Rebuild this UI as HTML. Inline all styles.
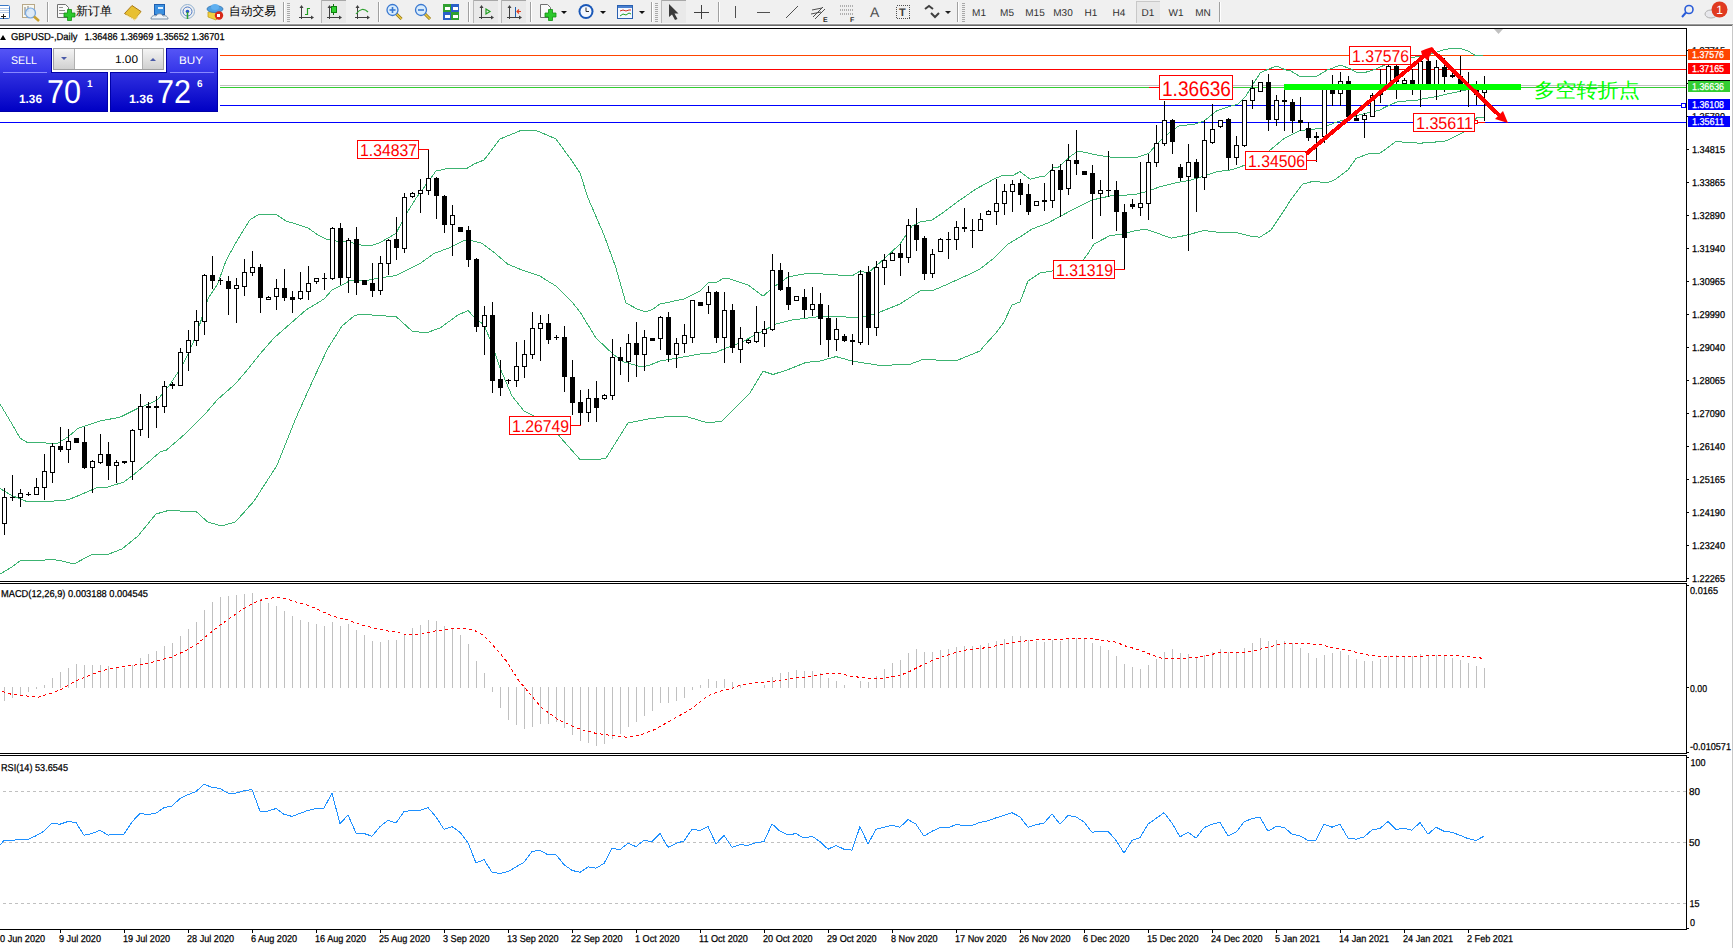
<!DOCTYPE html><html><head><meta charset="utf-8"><style>
html,body{margin:0;padding:0;width:1733px;height:948px;overflow:hidden;background:#f0f0f0;}
svg{position:absolute;left:0;top:0;font-family:"Liberation Sans", sans-serif;}
text{white-space:pre;text-rendering:geometricPrecision;}
</style></head><body>
<svg width="1733" height="948" viewBox="0 0 1733 948">
<rect x="0" y="0" width="1733" height="24" fill="#f0f0f0"/>
<rect x="0" y="23" width="1733" height="1" fill="#f6f6f6"/>
<rect x="0" y="24" width="1733" height="1" fill="#9a9a9a"/>
<rect x="0" y="25" width="1733" height="1" fill="#6a6a6a"/>
<rect x="0" y="26" width="1732" height="922" fill="#ffffff"/>
<rect x="1732" y="25" width="1" height="923" fill="#c8c8c8"/>
<g shape-rendering="crispEdges">
</g>
<g shape-rendering="crispEdges">
<rect x="0" y="55" width="1686" height="1" fill="#ff4500"/>
<rect x="0" y="69" width="1686" height="1" fill="#ff0000"/>
<rect x="0" y="85" width="1686" height="1" fill="#c0c0c0"/>
<rect x="0" y="87" width="1686" height="1" fill="#32cd32"/>
<rect x="0" y="105" width="1682" height="1" fill="#0000ff"/>
<rect x="0" y="122" width="1686" height="1" fill="#0000ff"/>
<rect x="1681.5" y="103.5" width="4" height="4" fill="#fff" stroke="#0000ff" stroke-width="1"/>
</g>
<g shape-rendering="crispEdges">
<polyline points="0.0,404.0 12.0,424.0 20.0,438.0 28.0,443.0 40.0,442.4 52.0,443.6 58.0,443.0 68.0,437.0 78.0,428.4 100.0,421.0 120.0,417.2 137.7,408.4 148.8,404.0 157.7,399.5 168.7,386.2 177.6,372.9 186.5,357.4 195.3,337.5 204.2,310.9 208.6,297.6 217.5,284.3 226.3,260.0 237.4,240.0 250.0,219.7 258.0,215.0 276.0,214.4 286.0,221.0 296.0,224.0 308.0,228.0 318.0,235.0 326.0,239.0 336.0,241.0 350.0,242.3 362.0,245.3 372.0,245.3 380.0,242.7 396.0,233.3 406.0,214.3 416.0,198.3 436.0,171.0 450.0,168.0 466.0,169.0 474.0,164.0 484.0,160.0 500.0,139.0 522.0,130.0 534.0,130.0 540.0,132.0 556.0,139.0 572.0,161.0 580.0,173.0 588.0,198.0 604.0,235.0 616.0,268.0 626.0,303.0 638.0,309.5 646.0,312.0 653.0,309.0 660.0,304.0 684.0,299.0 700.0,291.0 708.0,283.0 716.0,282.5 724.0,278.0 730.0,279.0 748.0,285.0 763.0,296.2 773.0,287.5 788.0,277.0 809.0,273.0 852.0,276.0 860.0,271.0 868.0,273.0 884.0,259.0 900.0,244.0 912.0,226.0 920.0,222.0 932.0,220.0 944.0,212.0 960.0,200.0 976.0,189.0 996.0,178.0 1004.0,175.0 1012.0,176.0 1020.0,171.6 1030.0,179.2 1038.4,177.1 1044.8,176.3 1053.6,167.4 1058.7,167.0 1069.7,156.9 1077.3,151.4 1082.3,151.8 1097.5,155.2 1114.4,157.6 1118.0,157.4 1137.0,157.4 1148.4,153.6 1159.8,141.3 1169.2,132.7 1178.7,126.0 1194.0,124.2 1203.5,121.3 1216.7,110.9 1230.0,106.2 1237.6,104.3 1245.2,97.1 1252.8,84.5 1260.4,72.7 1266.3,70.1 1270.5,68.4 1276.4,66.1 1282.3,68.4 1285.0,69.8 1290.8,71.0 1300.0,76.5 1316.2,76.5 1327.7,69.8 1340.4,65.2 1350.2,68.7 1356.6,72.4 1365.2,72.4 1373.9,69.8 1385.0,64.9 1400.0,62.0 1411.6,57.7 1421.0,56.0 1432.0,53.7 1443.3,49.8 1452.8,48.2 1462.3,49.0 1468.6,51.3 1475.0,55.3 1482.9,56.0" fill="none" stroke="#3cb371" stroke-width="1"/>
<polyline points="0.0,488.5 11.5,495.4 28.0,502.0 64.0,500.6 70.0,499.0 80.0,495.0 96.0,488.0 108.0,487.0 124.0,482.0 132.0,476.0 144.0,466.0 160.0,452.0 166.5,450.0 186.5,432.7 204.2,415.0 217.5,399.5 235.2,384.0 248.5,368.5 260.0,354.0 274.0,338.0 290.0,324.0 306.0,310.0 324.0,299.0 332.0,290.0 346.0,283.0 350.0,280.5 366.0,280.5 380.0,278.0 396.0,275.5 420.0,263.5 434.0,253.5 450.0,247.5 464.0,240.7 470.0,240.3 482.0,243.3 494.0,252.3 508.0,264.3 522.0,270.0 540.0,276.0 546.0,280.0 556.0,286.0 560.0,290.0 572.0,302.0 580.0,312.0 596.0,338.0 614.0,355.0 624.0,362.0 642.0,367.0 650.0,365.0 660.0,361.0 672.0,359.0 700.0,354.0 716.0,352.5 726.0,348.0 740.0,343.0 776.0,324.0 792.0,320.0 816.0,317.0 836.0,316.0 856.0,318.0 868.0,316.0 880.0,312.0 900.0,304.0 920.0,291.0 934.0,290.0 948.0,284.0 970.0,274.0 980.0,269.0 994.0,258.0 1002.0,250.0 1008.0,244.0 1020.0,237.0 1032.0,229.0 1048.0,223.0 1060.0,216.4 1076.0,208.0 1092.0,200.0 1110.0,196.0 1123.7,195.4 1137.0,194.0 1146.4,191.6 1159.8,186.8 1175.0,183.0 1190.0,180.2 1203.5,176.4 1216.7,171.6 1232.0,169.8 1245.3,165.0 1256.9,158.1 1269.4,150.6 1283.8,138.8 1300.6,130.4 1321.7,128.3 1334.4,122.8 1347.0,119.0 1359.7,114.8 1380.0,110.1 1383.9,107.7 1396.3,102.2 1401.2,101.1 1415.0,100.8 1421.9,99.0 1432.3,97.3 1439.3,95.9 1446.2,94.2 1456.6,92.1 1465.6,90.0 1484.0,87.0" fill="none" stroke="#3cb371" stroke-width="1"/>
<polyline points="0.0,574.0 12.0,567.0 20.0,561.0 40.0,560.4 52.0,559.4 62.0,561.0 74.0,564.0 92.0,554.4 108.0,554.4 122.0,549.0 138.0,536.0 156.0,514.0 170.0,510.0 180.0,511.0 196.2,511.6 207.7,522.0 221.6,525.9 235.4,522.0 253.9,501.2 277.0,465.4 295.4,419.2 313.0,380.0 328.0,348.0 342.0,326.0 354.0,316.0 360.0,314.0 380.0,315.7 396.0,316.5 412.0,331.0 426.0,333.0 440.0,328.0 458.0,315.0 468.0,310.5 474.0,317.0 484.0,325.0 492.0,344.0 500.0,368.0 512.0,396.0 524.0,411.0 532.0,415.0 558.0,434.0 560.0,437.0 580.0,459.5 600.0,459.5 602.0,458.5 606.0,458.2 628.0,423.0 648.0,419.0 672.0,416.0 688.0,417.0 708.0,423.0 722.0,421.0 730.0,413.0 750.0,393.0 763.0,371.2 773.0,374.5 788.0,369.6 806.0,362.4 820.0,361.0 836.0,356.6 852.0,361.0 868.0,363.6 884.0,366.0 900.0,364.0 908.0,365.0 924.0,359.0 936.0,360.0 958.0,360.0 980.0,351.0 984.0,346.0 996.0,333.0 1004.0,322.0 1012.0,305.0 1020.0,302.0 1028.0,281.0 1040.0,273.0 1052.0,271.0 1070.0,265.5 1083.0,260.0 1087.0,255.0 1094.0,244.0 1110.0,235.6 1121.8,234.3 1137.0,230.2 1146.4,229.6 1157.9,233.4 1171.1,238.1 1186.3,235.3 1203.5,230.5 1216.7,232.1 1237.6,232.8 1250.9,236.2 1260.0,237.2 1271.0,230.0 1286.0,207.5 1290.6,200.0 1302.4,184.3 1312.6,181.4 1327.8,182.6 1334.4,180.0 1347.9,170.0 1356.3,158.2 1368.1,154.0 1380.0,153.2 1395.8,141.6 1419.6,143.2 1432.0,142.4 1446.5,140.8 1462.3,132.9 1468.6,129.0 1476.5,117.8 1484.4,117.8" fill="none" stroke="#3cb371" stroke-width="1"/>
</g>
<g shape-rendering="crispEdges">
<rect x="4" y="488" width="1" height="47" fill="#000"/>
<rect x="2" y="497" width="5" height="27" fill="#000"/>
<rect x="3" y="498" width="3" height="25" fill="#fff"/>
<rect x="12" y="475" width="1" height="26" fill="#000"/>
<rect x="10" y="497" width="5" height="1" fill="#000"/>
<rect x="20" y="489" width="1" height="18" fill="#000"/>
<rect x="18" y="493" width="5" height="5" fill="#000"/>
<rect x="19" y="494" width="3" height="3" fill="#fff"/>
<rect x="28" y="492" width="1" height="4" fill="#000"/>
<rect x="26" y="494" width="5" height="1" fill="#000"/>
<rect x="36" y="478" width="1" height="17" fill="#000"/>
<rect x="34" y="487" width="5" height="8" fill="#000"/>
<rect x="35" y="488" width="3" height="6" fill="#fff"/>
<rect x="44" y="454" width="1" height="46" fill="#000"/>
<rect x="42" y="471" width="5" height="17" fill="#000"/>
<rect x="43" y="472" width="3" height="15" fill="#fff"/>
<rect x="52" y="443" width="1" height="40" fill="#000"/>
<rect x="50" y="446" width="5" height="27" fill="#000"/>
<rect x="51" y="447" width="3" height="25" fill="#fff"/>
<rect x="60" y="427" width="1" height="25" fill="#000"/>
<rect x="58" y="446" width="5" height="4" fill="#000"/>
<rect x="68" y="429" width="1" height="34" fill="#000"/>
<rect x="66" y="441" width="5" height="9" fill="#000"/>
<rect x="67" y="442" width="3" height="7" fill="#fff"/>
<rect x="76" y="438" width="1" height="5" fill="#000"/>
<rect x="74" y="438" width="5" height="5" fill="#000"/>
<rect x="84" y="427" width="1" height="42" fill="#000"/>
<rect x="82" y="442" width="5" height="26" fill="#000"/>
<rect x="92" y="460" width="1" height="33" fill="#000"/>
<rect x="90" y="461" width="5" height="7" fill="#000"/>
<rect x="91" y="462" width="3" height="5" fill="#fff"/>
<rect x="100" y="434" width="1" height="30" fill="#000"/>
<rect x="98" y="454" width="5" height="9" fill="#000"/>
<rect x="99" y="455" width="3" height="7" fill="#fff"/>
<rect x="108" y="442" width="1" height="38" fill="#000"/>
<rect x="106" y="454" width="5" height="12" fill="#000"/>
<rect x="116" y="460" width="1" height="23" fill="#000"/>
<rect x="114" y="462" width="5" height="4" fill="#000"/>
<rect x="115" y="463" width="3" height="2" fill="#fff"/>
<rect x="124" y="461" width="1" height="3" fill="#000"/>
<rect x="122" y="461" width="5" height="2" fill="#000"/>
<rect x="132" y="429" width="1" height="51" fill="#000"/>
<rect x="130" y="430" width="5" height="32" fill="#000"/>
<rect x="131" y="431" width="3" height="30" fill="#fff"/>
<rect x="140" y="394" width="1" height="42" fill="#000"/>
<rect x="138" y="406" width="5" height="24" fill="#000"/>
<rect x="139" y="407" width="3" height="22" fill="#fff"/>
<rect x="148" y="402" width="1" height="36" fill="#000"/>
<rect x="146" y="406" width="5" height="2" fill="#000"/>
<rect x="156" y="396" width="1" height="32" fill="#000"/>
<rect x="154" y="406" width="5" height="2" fill="#000"/>
<rect x="164" y="381" width="1" height="32" fill="#000"/>
<rect x="162" y="386" width="5" height="21" fill="#000"/>
<rect x="163" y="387" width="3" height="19" fill="#fff"/>
<rect x="172" y="382" width="1" height="7" fill="#000"/>
<rect x="170" y="384" width="5" height="2" fill="#000"/>
<rect x="180" y="348" width="1" height="38" fill="#000"/>
<rect x="178" y="352" width="5" height="34" fill="#000"/>
<rect x="179" y="353" width="3" height="32" fill="#fff"/>
<rect x="188" y="330" width="1" height="41" fill="#000"/>
<rect x="186" y="340" width="5" height="13" fill="#000"/>
<rect x="187" y="341" width="3" height="11" fill="#fff"/>
<rect x="196" y="310" width="1" height="36" fill="#000"/>
<rect x="194" y="321" width="5" height="20" fill="#000"/>
<rect x="195" y="322" width="3" height="18" fill="#fff"/>
<rect x="204" y="274" width="1" height="61" fill="#000"/>
<rect x="202" y="275" width="5" height="47" fill="#000"/>
<rect x="203" y="276" width="3" height="45" fill="#fff"/>
<rect x="212" y="256" width="1" height="33" fill="#000"/>
<rect x="210" y="275" width="5" height="6" fill="#000"/>
<rect x="220" y="278" width="1" height="7" fill="#000"/>
<rect x="218" y="280" width="5" height="1" fill="#000"/>
<rect x="228" y="276" width="1" height="39" fill="#000"/>
<rect x="226" y="281" width="5" height="8" fill="#000"/>
<rect x="236" y="278" width="1" height="45" fill="#000"/>
<rect x="234" y="285" width="5" height="4" fill="#000"/>
<rect x="235" y="286" width="3" height="2" fill="#fff"/>
<rect x="244" y="259" width="1" height="37" fill="#000"/>
<rect x="242" y="272" width="5" height="15" fill="#000"/>
<rect x="243" y="273" width="3" height="13" fill="#fff"/>
<rect x="252" y="251" width="1" height="25" fill="#000"/>
<rect x="250" y="267" width="5" height="6" fill="#000"/>
<rect x="251" y="268" width="3" height="4" fill="#fff"/>
<rect x="260" y="264" width="1" height="49" fill="#000"/>
<rect x="258" y="267" width="5" height="31" fill="#000"/>
<rect x="268" y="296" width="1" height="4" fill="#000"/>
<rect x="266" y="297" width="5" height="3" fill="#000"/>
<rect x="267" y="298" width="3" height="1" fill="#fff"/>
<rect x="276" y="279" width="1" height="31" fill="#000"/>
<rect x="274" y="288" width="5" height="9" fill="#000"/>
<rect x="275" y="289" width="3" height="7" fill="#fff"/>
<rect x="284" y="269" width="1" height="32" fill="#000"/>
<rect x="282" y="288" width="5" height="10" fill="#000"/>
<rect x="292" y="291" width="1" height="22" fill="#000"/>
<rect x="290" y="297" width="5" height="3" fill="#000"/>
<rect x="300" y="272" width="1" height="28" fill="#000"/>
<rect x="298" y="291" width="5" height="8" fill="#000"/>
<rect x="299" y="292" width="3" height="6" fill="#fff"/>
<rect x="308" y="266" width="1" height="34" fill="#000"/>
<rect x="306" y="283" width="5" height="9" fill="#000"/>
<rect x="307" y="284" width="3" height="7" fill="#fff"/>
<rect x="316" y="278" width="1" height="6" fill="#000"/>
<rect x="314" y="278" width="5" height="4" fill="#000"/>
<rect x="315" y="279" width="3" height="2" fill="#fff"/>
<rect x="324" y="273" width="1" height="17" fill="#000"/>
<rect x="322" y="278" width="5" height="1" fill="#000"/>
<rect x="332" y="227" width="1" height="53" fill="#000"/>
<rect x="330" y="228" width="5" height="51" fill="#000"/>
<rect x="331" y="229" width="3" height="49" fill="#fff"/>
<rect x="340" y="223" width="1" height="62" fill="#000"/>
<rect x="338" y="228" width="5" height="50" fill="#000"/>
<rect x="348" y="238" width="1" height="55" fill="#000"/>
<rect x="346" y="240" width="5" height="38" fill="#000"/>
<rect x="347" y="241" width="3" height="36" fill="#fff"/>
<rect x="356" y="227" width="1" height="68" fill="#000"/>
<rect x="354" y="239" width="5" height="44" fill="#000"/>
<rect x="364" y="280" width="1" height="5" fill="#000"/>
<rect x="362" y="280" width="5" height="5" fill="#000"/>
<rect x="372" y="263" width="1" height="34" fill="#000"/>
<rect x="370" y="283" width="5" height="8" fill="#000"/>
<rect x="380" y="256" width="1" height="39" fill="#000"/>
<rect x="378" y="263" width="5" height="28" fill="#000"/>
<rect x="379" y="264" width="3" height="26" fill="#fff"/>
<rect x="388" y="239" width="1" height="36" fill="#000"/>
<rect x="386" y="240" width="5" height="24" fill="#000"/>
<rect x="387" y="241" width="3" height="22" fill="#fff"/>
<rect x="396" y="217" width="1" height="43" fill="#000"/>
<rect x="394" y="239" width="5" height="9" fill="#000"/>
<rect x="404" y="193" width="1" height="60" fill="#000"/>
<rect x="402" y="197" width="5" height="52" fill="#000"/>
<rect x="403" y="198" width="3" height="50" fill="#fff"/>
<rect x="412" y="192" width="1" height="6" fill="#000"/>
<rect x="410" y="193" width="5" height="4" fill="#000"/>
<rect x="411" y="194" width="3" height="2" fill="#fff"/>
<rect x="420" y="179" width="1" height="34" fill="#000"/>
<rect x="418" y="190" width="5" height="4" fill="#000"/>
<rect x="419" y="191" width="3" height="2" fill="#fff"/>
<rect x="428" y="149" width="1" height="46" fill="#000"/>
<rect x="426" y="178" width="5" height="13" fill="#000"/>
<rect x="427" y="179" width="3" height="11" fill="#fff"/>
<rect x="436" y="177" width="1" height="42" fill="#000"/>
<rect x="434" y="178" width="5" height="18" fill="#000"/>
<rect x="444" y="195" width="1" height="38" fill="#000"/>
<rect x="442" y="196" width="5" height="29" fill="#000"/>
<rect x="452" y="205" width="1" height="51" fill="#000"/>
<rect x="450" y="215" width="5" height="10" fill="#000"/>
<rect x="451" y="216" width="3" height="8" fill="#fff"/>
<rect x="460" y="227" width="1" height="5" fill="#000"/>
<rect x="458" y="227" width="5" height="5" fill="#000"/>
<rect x="468" y="226" width="1" height="41" fill="#000"/>
<rect x="466" y="230" width="5" height="30" fill="#000"/>
<rect x="476" y="258" width="1" height="74" fill="#000"/>
<rect x="474" y="259" width="5" height="68" fill="#000"/>
<rect x="484" y="306" width="1" height="49" fill="#000"/>
<rect x="482" y="315" width="5" height="12" fill="#000"/>
<rect x="483" y="316" width="3" height="10" fill="#fff"/>
<rect x="492" y="302" width="1" height="91" fill="#000"/>
<rect x="490" y="315" width="5" height="66" fill="#000"/>
<rect x="500" y="360" width="1" height="36" fill="#000"/>
<rect x="498" y="379" width="5" height="9" fill="#000"/>
<rect x="508" y="379" width="1" height="5" fill="#000"/>
<rect x="506" y="380" width="5" height="1" fill="#000"/>
<rect x="516" y="342" width="1" height="45" fill="#000"/>
<rect x="514" y="366" width="5" height="15" fill="#000"/>
<rect x="515" y="367" width="3" height="13" fill="#fff"/>
<rect x="524" y="340" width="1" height="38" fill="#000"/>
<rect x="522" y="354" width="5" height="13" fill="#000"/>
<rect x="523" y="355" width="3" height="11" fill="#fff"/>
<rect x="532" y="312" width="1" height="47" fill="#000"/>
<rect x="530" y="328" width="5" height="27" fill="#000"/>
<rect x="531" y="329" width="3" height="25" fill="#fff"/>
<rect x="540" y="315" width="1" height="46" fill="#000"/>
<rect x="538" y="323" width="5" height="6" fill="#000"/>
<rect x="539" y="324" width="3" height="4" fill="#fff"/>
<rect x="548" y="314" width="1" height="30" fill="#000"/>
<rect x="546" y="323" width="5" height="17" fill="#000"/>
<rect x="556" y="335" width="1" height="5" fill="#000"/>
<rect x="554" y="337" width="5" height="1" fill="#000"/>
<rect x="564" y="326" width="1" height="66" fill="#000"/>
<rect x="562" y="337" width="5" height="40" fill="#000"/>
<rect x="572" y="360" width="1" height="55" fill="#000"/>
<rect x="570" y="377" width="5" height="26" fill="#000"/>
<rect x="580" y="390" width="1" height="36" fill="#000"/>
<rect x="578" y="402" width="5" height="11" fill="#000"/>
<rect x="588" y="389" width="1" height="33" fill="#000"/>
<rect x="586" y="398" width="5" height="15" fill="#000"/>
<rect x="587" y="399" width="3" height="13" fill="#fff"/>
<rect x="596" y="381" width="1" height="41" fill="#000"/>
<rect x="594" y="398" width="5" height="10" fill="#000"/>
<rect x="604" y="394" width="1" height="6" fill="#000"/>
<rect x="602" y="395" width="5" height="4" fill="#000"/>
<rect x="603" y="396" width="3" height="2" fill="#fff"/>
<rect x="612" y="339" width="1" height="61" fill="#000"/>
<rect x="610" y="357" width="5" height="39" fill="#000"/>
<rect x="611" y="358" width="3" height="37" fill="#fff"/>
<rect x="620" y="347" width="1" height="28" fill="#000"/>
<rect x="618" y="357" width="5" height="4" fill="#000"/>
<rect x="628" y="334" width="1" height="48" fill="#000"/>
<rect x="626" y="343" width="5" height="19" fill="#000"/>
<rect x="627" y="344" width="3" height="17" fill="#fff"/>
<rect x="636" y="322" width="1" height="55" fill="#000"/>
<rect x="634" y="343" width="5" height="12" fill="#000"/>
<rect x="644" y="330" width="1" height="41" fill="#000"/>
<rect x="642" y="337" width="5" height="18" fill="#000"/>
<rect x="643" y="338" width="3" height="16" fill="#fff"/>
<rect x="652" y="338" width="1" height="3" fill="#000"/>
<rect x="650" y="338" width="5" height="3" fill="#000"/>
<rect x="660" y="316" width="1" height="34" fill="#000"/>
<rect x="658" y="317" width="5" height="22" fill="#000"/>
<rect x="659" y="318" width="3" height="20" fill="#fff"/>
<rect x="668" y="312" width="1" height="50" fill="#000"/>
<rect x="666" y="317" width="5" height="38" fill="#000"/>
<rect x="676" y="338" width="1" height="30" fill="#000"/>
<rect x="674" y="343" width="5" height="12" fill="#000"/>
<rect x="675" y="344" width="3" height="10" fill="#fff"/>
<rect x="684" y="324" width="1" height="29" fill="#000"/>
<rect x="682" y="335" width="5" height="9" fill="#000"/>
<rect x="683" y="336" width="3" height="7" fill="#fff"/>
<rect x="692" y="300" width="1" height="43" fill="#000"/>
<rect x="690" y="300" width="5" height="38" fill="#000"/>
<rect x="691" y="301" width="3" height="36" fill="#fff"/>
<rect x="700" y="302" width="1" height="4" fill="#000"/>
<rect x="698" y="302" width="5" height="4" fill="#000"/>
<rect x="708" y="286" width="1" height="28" fill="#000"/>
<rect x="706" y="292" width="5" height="13" fill="#000"/>
<rect x="707" y="293" width="3" height="11" fill="#fff"/>
<rect x="716" y="291" width="1" height="52" fill="#000"/>
<rect x="714" y="292" width="5" height="46" fill="#000"/>
<rect x="724" y="292" width="1" height="71" fill="#000"/>
<rect x="722" y="310" width="5" height="28" fill="#000"/>
<rect x="723" y="311" width="3" height="26" fill="#fff"/>
<rect x="732" y="304" width="1" height="49" fill="#000"/>
<rect x="730" y="310" width="5" height="38" fill="#000"/>
<rect x="740" y="327" width="1" height="36" fill="#000"/>
<rect x="738" y="338" width="5" height="12" fill="#000"/>
<rect x="739" y="339" width="3" height="10" fill="#fff"/>
<rect x="748" y="339" width="1" height="5" fill="#000"/>
<rect x="746" y="340" width="5" height="3" fill="#000"/>
<rect x="747" y="341" width="3" height="1" fill="#fff"/>
<rect x="756" y="306" width="1" height="37" fill="#000"/>
<rect x="754" y="332" width="5" height="10" fill="#000"/>
<rect x="755" y="333" width="3" height="8" fill="#fff"/>
<rect x="764" y="321" width="1" height="26" fill="#000"/>
<rect x="762" y="329" width="5" height="5" fill="#000"/>
<rect x="763" y="330" width="3" height="3" fill="#fff"/>
<rect x="772" y="254" width="1" height="77" fill="#000"/>
<rect x="770" y="270" width="5" height="60" fill="#000"/>
<rect x="771" y="271" width="3" height="58" fill="#fff"/>
<rect x="780" y="263" width="1" height="28" fill="#000"/>
<rect x="778" y="270" width="5" height="20" fill="#000"/>
<rect x="788" y="272" width="1" height="38" fill="#000"/>
<rect x="786" y="287" width="5" height="18" fill="#000"/>
<rect x="796" y="296" width="1" height="5" fill="#000"/>
<rect x="794" y="296" width="5" height="5" fill="#000"/>
<rect x="795" y="297" width="3" height="3" fill="#fff"/>
<rect x="804" y="289" width="1" height="29" fill="#000"/>
<rect x="802" y="297" width="5" height="13" fill="#000"/>
<rect x="812" y="287" width="1" height="29" fill="#000"/>
<rect x="810" y="304" width="5" height="6" fill="#000"/>
<rect x="811" y="305" width="3" height="4" fill="#fff"/>
<rect x="820" y="293" width="1" height="52" fill="#000"/>
<rect x="818" y="304" width="5" height="15" fill="#000"/>
<rect x="828" y="305" width="1" height="52" fill="#000"/>
<rect x="826" y="318" width="5" height="22" fill="#000"/>
<rect x="836" y="318" width="1" height="33" fill="#000"/>
<rect x="834" y="329" width="5" height="11" fill="#000"/>
<rect x="835" y="330" width="3" height="9" fill="#fff"/>
<rect x="844" y="334" width="1" height="8" fill="#000"/>
<rect x="842" y="336" width="5" height="5" fill="#000"/>
<rect x="852" y="334" width="1" height="31" fill="#000"/>
<rect x="850" y="340" width="5" height="2" fill="#000"/>
<rect x="860" y="270" width="1" height="75" fill="#000"/>
<rect x="858" y="274" width="5" height="69" fill="#000"/>
<rect x="859" y="275" width="3" height="67" fill="#fff"/>
<rect x="868" y="266" width="1" height="79" fill="#000"/>
<rect x="866" y="272" width="5" height="56" fill="#000"/>
<rect x="876" y="261" width="1" height="75" fill="#000"/>
<rect x="874" y="267" width="5" height="61" fill="#000"/>
<rect x="875" y="268" width="3" height="59" fill="#fff"/>
<rect x="884" y="254" width="1" height="31" fill="#000"/>
<rect x="882" y="260" width="5" height="8" fill="#000"/>
<rect x="883" y="261" width="3" height="6" fill="#fff"/>
<rect x="892" y="252" width="1" height="9" fill="#000"/>
<rect x="890" y="253" width="5" height="8" fill="#000"/>
<rect x="891" y="254" width="3" height="6" fill="#fff"/>
<rect x="900" y="244" width="1" height="32" fill="#000"/>
<rect x="898" y="253" width="5" height="5" fill="#000"/>
<rect x="908" y="219" width="1" height="44" fill="#000"/>
<rect x="906" y="225" width="5" height="33" fill="#000"/>
<rect x="907" y="226" width="3" height="31" fill="#fff"/>
<rect x="916" y="208" width="1" height="43" fill="#000"/>
<rect x="914" y="225" width="5" height="15" fill="#000"/>
<rect x="924" y="236" width="1" height="44" fill="#000"/>
<rect x="922" y="238" width="5" height="36" fill="#000"/>
<rect x="932" y="249" width="1" height="29" fill="#000"/>
<rect x="930" y="254" width="5" height="20" fill="#000"/>
<rect x="931" y="255" width="3" height="18" fill="#fff"/>
<rect x="940" y="238" width="1" height="14" fill="#000"/>
<rect x="938" y="239" width="5" height="13" fill="#000"/>
<rect x="939" y="240" width="3" height="11" fill="#fff"/>
<rect x="948" y="232" width="1" height="27" fill="#000"/>
<rect x="946" y="239" width="5" height="1" fill="#000"/>
<rect x="956" y="221" width="1" height="29" fill="#000"/>
<rect x="954" y="227" width="5" height="13" fill="#000"/>
<rect x="955" y="228" width="3" height="11" fill="#fff"/>
<rect x="964" y="208" width="1" height="24" fill="#000"/>
<rect x="962" y="227" width="5" height="2" fill="#000"/>
<rect x="972" y="219" width="1" height="29" fill="#000"/>
<rect x="970" y="230" width="5" height="1" fill="#000"/>
<rect x="980" y="213" width="1" height="18" fill="#000"/>
<rect x="978" y="219" width="5" height="12" fill="#000"/>
<rect x="979" y="220" width="3" height="10" fill="#fff"/>
<rect x="988" y="210" width="1" height="5" fill="#000"/>
<rect x="986" y="211" width="5" height="4" fill="#000"/>
<rect x="987" y="212" width="3" height="2" fill="#fff"/>
<rect x="996" y="179" width="1" height="46" fill="#000"/>
<rect x="994" y="203" width="5" height="9" fill="#000"/>
<rect x="995" y="204" width="3" height="7" fill="#fff"/>
<rect x="1004" y="184" width="1" height="31" fill="#000"/>
<rect x="1002" y="191" width="5" height="13" fill="#000"/>
<rect x="1003" y="192" width="3" height="11" fill="#fff"/>
<rect x="1012" y="180" width="1" height="32" fill="#000"/>
<rect x="1010" y="184" width="5" height="8" fill="#000"/>
<rect x="1011" y="185" width="3" height="6" fill="#fff"/>
<rect x="1020" y="179" width="1" height="26" fill="#000"/>
<rect x="1018" y="183" width="5" height="12" fill="#000"/>
<rect x="1028" y="184" width="1" height="31" fill="#000"/>
<rect x="1026" y="194" width="5" height="18" fill="#000"/>
<rect x="1036" y="201" width="1" height="5" fill="#000"/>
<rect x="1034" y="201" width="5" height="5" fill="#000"/>
<rect x="1035" y="202" width="3" height="3" fill="#fff"/>
<rect x="1044" y="183" width="1" height="28" fill="#000"/>
<rect x="1042" y="200" width="5" height="2" fill="#000"/>
<rect x="1052" y="164" width="1" height="44" fill="#000"/>
<rect x="1050" y="170" width="5" height="31" fill="#000"/>
<rect x="1051" y="171" width="3" height="29" fill="#fff"/>
<rect x="1060" y="164" width="1" height="53" fill="#000"/>
<rect x="1058" y="170" width="5" height="20" fill="#000"/>
<rect x="1068" y="144" width="1" height="51" fill="#000"/>
<rect x="1066" y="160" width="5" height="29" fill="#000"/>
<rect x="1067" y="161" width="3" height="27" fill="#fff"/>
<rect x="1076" y="130" width="1" height="45" fill="#000"/>
<rect x="1074" y="160" width="5" height="4" fill="#000"/>
<rect x="1084" y="171" width="1" height="4" fill="#000"/>
<rect x="1082" y="171" width="5" height="4" fill="#000"/>
<rect x="1092" y="165" width="1" height="74" fill="#000"/>
<rect x="1090" y="173" width="5" height="21" fill="#000"/>
<rect x="1100" y="180" width="1" height="36" fill="#000"/>
<rect x="1098" y="190" width="5" height="4" fill="#000"/>
<rect x="1099" y="191" width="3" height="2" fill="#fff"/>
<rect x="1108" y="151" width="1" height="46" fill="#000"/>
<rect x="1106" y="190" width="5" height="1" fill="#000"/>
<rect x="1116" y="181" width="1" height="50" fill="#000"/>
<rect x="1114" y="190" width="5" height="22" fill="#000"/>
<rect x="1124" y="204" width="1" height="66" fill="#000"/>
<rect x="1122" y="212" width="5" height="26" fill="#000"/>
<rect x="1132" y="199" width="1" height="10" fill="#000"/>
<rect x="1130" y="204" width="5" height="3" fill="#000"/>
<rect x="1140" y="162" width="1" height="54" fill="#000"/>
<rect x="1138" y="203" width="5" height="5" fill="#000"/>
<rect x="1139" y="204" width="3" height="3" fill="#fff"/>
<rect x="1148" y="154" width="1" height="66" fill="#000"/>
<rect x="1146" y="162" width="5" height="42" fill="#000"/>
<rect x="1147" y="163" width="3" height="40" fill="#fff"/>
<rect x="1156" y="125" width="1" height="42" fill="#000"/>
<rect x="1154" y="143" width="5" height="20" fill="#000"/>
<rect x="1155" y="144" width="3" height="18" fill="#fff"/>
<rect x="1164" y="101" width="1" height="45" fill="#000"/>
<rect x="1162" y="120" width="5" height="24" fill="#000"/>
<rect x="1163" y="121" width="3" height="22" fill="#fff"/>
<rect x="1172" y="119" width="1" height="35" fill="#000"/>
<rect x="1170" y="120" width="5" height="22" fill="#000"/>
<rect x="1180" y="164" width="1" height="17" fill="#000"/>
<rect x="1178" y="167" width="5" height="11" fill="#000"/>
<rect x="1188" y="144" width="1" height="107" fill="#000"/>
<rect x="1186" y="162" width="5" height="15" fill="#000"/>
<rect x="1187" y="163" width="3" height="13" fill="#fff"/>
<rect x="1196" y="159" width="1" height="53" fill="#000"/>
<rect x="1194" y="162" width="5" height="16" fill="#000"/>
<rect x="1204" y="120" width="1" height="70" fill="#000"/>
<rect x="1202" y="140" width="5" height="38" fill="#000"/>
<rect x="1203" y="141" width="3" height="36" fill="#fff"/>
<rect x="1212" y="104" width="1" height="40" fill="#000"/>
<rect x="1210" y="129" width="5" height="14" fill="#000"/>
<rect x="1211" y="130" width="3" height="12" fill="#fff"/>
<rect x="1220" y="120" width="1" height="8" fill="#000"/>
<rect x="1218" y="120" width="5" height="7" fill="#000"/>
<rect x="1219" y="121" width="3" height="5" fill="#fff"/>
<rect x="1228" y="118" width="1" height="52" fill="#000"/>
<rect x="1226" y="119" width="5" height="39" fill="#000"/>
<rect x="1236" y="136" width="1" height="29" fill="#000"/>
<rect x="1234" y="145" width="5" height="13" fill="#000"/>
<rect x="1235" y="146" width="3" height="11" fill="#fff"/>
<rect x="1244" y="100" width="1" height="47" fill="#000"/>
<rect x="1242" y="100" width="5" height="46" fill="#000"/>
<rect x="1243" y="101" width="3" height="44" fill="#fff"/>
<rect x="1252" y="80" width="1" height="29" fill="#000"/>
<rect x="1250" y="88" width="5" height="13" fill="#000"/>
<rect x="1251" y="89" width="3" height="11" fill="#fff"/>
<rect x="1260" y="82" width="1" height="10" fill="#000"/>
<rect x="1258" y="82" width="5" height="10" fill="#000"/>
<rect x="1259" y="83" width="3" height="8" fill="#fff"/>
<rect x="1268" y="74" width="1" height="57" fill="#000"/>
<rect x="1266" y="82" width="5" height="38" fill="#000"/>
<rect x="1276" y="95" width="1" height="31" fill="#000"/>
<rect x="1274" y="100" width="5" height="20" fill="#000"/>
<rect x="1275" y="101" width="3" height="18" fill="#fff"/>
<rect x="1284" y="89" width="1" height="42" fill="#000"/>
<rect x="1282" y="100" width="5" height="2" fill="#000"/>
<rect x="1292" y="99" width="1" height="34" fill="#000"/>
<rect x="1290" y="102" width="5" height="19" fill="#000"/>
<rect x="1300" y="97" width="1" height="34" fill="#000"/>
<rect x="1298" y="120" width="5" height="3" fill="#000"/>
<rect x="1308" y="122" width="1" height="19" fill="#000"/>
<rect x="1306" y="128" width="5" height="10" fill="#000"/>
<rect x="1316" y="132" width="1" height="30" fill="#000"/>
<rect x="1314" y="136" width="5" height="2" fill="#000"/>
<rect x="1324" y="87" width="1" height="56" fill="#000"/>
<rect x="1322" y="88" width="5" height="49" fill="#000"/>
<rect x="1323" y="89" width="3" height="47" fill="#fff"/>
<rect x="1332" y="75" width="1" height="31" fill="#000"/>
<rect x="1330" y="90" width="5" height="4" fill="#000"/>
<rect x="1340" y="72" width="1" height="34" fill="#000"/>
<rect x="1338" y="81" width="5" height="13" fill="#000"/>
<rect x="1339" y="82" width="3" height="11" fill="#fff"/>
<rect x="1348" y="76" width="1" height="41" fill="#000"/>
<rect x="1346" y="81" width="5" height="36" fill="#000"/>
<rect x="1356" y="110" width="1" height="11" fill="#000"/>
<rect x="1354" y="118" width="5" height="3" fill="#000"/>
<rect x="1364" y="113" width="1" height="25" fill="#000"/>
<rect x="1362" y="115" width="5" height="5" fill="#000"/>
<rect x="1363" y="116" width="3" height="3" fill="#fff"/>
<rect x="1372" y="93" width="1" height="24" fill="#000"/>
<rect x="1370" y="95" width="5" height="22" fill="#000"/>
<rect x="1371" y="96" width="3" height="20" fill="#fff"/>
<rect x="1380" y="69" width="1" height="34" fill="#000"/>
<rect x="1378" y="91" width="5" height="4" fill="#000"/>
<rect x="1388" y="60" width="1" height="25" fill="#000"/>
<rect x="1386" y="66" width="5" height="19" fill="#000"/>
<rect x="1387" y="67" width="3" height="17" fill="#fff"/>
<rect x="1396" y="63" width="1" height="36" fill="#000"/>
<rect x="1394" y="66" width="5" height="16" fill="#000"/>
<rect x="1404" y="78" width="1" height="7" fill="#000"/>
<rect x="1402" y="80" width="5" height="4" fill="#000"/>
<rect x="1403" y="81" width="3" height="2" fill="#fff"/>
<rect x="1412" y="69" width="1" height="26" fill="#000"/>
<rect x="1410" y="80" width="5" height="5" fill="#000"/>
<rect x="1420" y="56" width="1" height="51" fill="#000"/>
<rect x="1418" y="61" width="5" height="24" fill="#000"/>
<rect x="1419" y="62" width="3" height="22" fill="#fff"/>
<rect x="1428" y="52" width="1" height="33" fill="#000"/>
<rect x="1426" y="61" width="5" height="24" fill="#000"/>
<rect x="1436" y="60" width="1" height="40" fill="#000"/>
<rect x="1434" y="67" width="5" height="18" fill="#000"/>
<rect x="1435" y="68" width="3" height="16" fill="#fff"/>
<rect x="1444" y="58" width="1" height="34" fill="#000"/>
<rect x="1442" y="67" width="5" height="10" fill="#000"/>
<rect x="1452" y="73" width="1" height="5" fill="#000"/>
<rect x="1450" y="75" width="5" height="2" fill="#000"/>
<rect x="1460" y="56" width="1" height="36" fill="#000"/>
<rect x="1458" y="76" width="5" height="9" fill="#000"/>
<rect x="1468" y="72" width="1" height="35" fill="#000"/>
<rect x="1466" y="86" width="5" height="4" fill="#000"/>
<rect x="1476" y="81" width="1" height="24" fill="#000"/>
<rect x="1474" y="90" width="5" height="5" fill="#000"/>
<rect x="1484" y="76" width="1" height="45" fill="#000"/>
<rect x="1482" y="84" width="5" height="9" fill="#000"/>
<rect x="1483" y="85" width="3" height="7" fill="#fff"/>
</g>
<g shape-rendering="crispEdges">
<rect x="357.5" y="140.5" width="61" height="18" fill="#fff" stroke="#ff0000" stroke-width="1"/>
<rect x="419" y="149" width="10" height="1" fill="#ff0000"/>
</g>
<text x="388.5" y="156" font-size="17" fill="#ff0000" text-anchor="middle" font-weight="normal" textLength="57" lengthAdjust="spacingAndGlyphs">1.34837</text>
<g shape-rendering="crispEdges">
<rect x="509.5" y="416.5" width="61" height="18" fill="#fff" stroke="#ff0000" stroke-width="1"/>
<rect x="571" y="425" width="10" height="1" fill="#ff0000"/>
</g>
<text x="540.5" y="432" font-size="17" fill="#ff0000" text-anchor="middle" font-weight="normal" textLength="57" lengthAdjust="spacingAndGlyphs">1.26749</text>
<g shape-rendering="crispEdges">
<rect x="1053.5" y="260.5" width="61" height="18" fill="#fff" stroke="#ff0000" stroke-width="1"/>
<rect x="1115" y="269" width="10" height="1" fill="#ff0000"/>
</g>
<text x="1084.5" y="276" font-size="17" fill="#ff0000" text-anchor="middle" font-weight="normal" textLength="57" lengthAdjust="spacingAndGlyphs">1.31319</text>
<g shape-rendering="crispEdges">
<rect x="1245.5" y="151.5" width="61" height="18" fill="#fff" stroke="#ff0000" stroke-width="1"/>
<rect x="1307" y="160" width="10" height="1" fill="#ff0000"/>
</g>
<text x="1276.5" y="167" font-size="17" fill="#ff0000" text-anchor="middle" font-weight="normal" textLength="57" lengthAdjust="spacingAndGlyphs">1.34506</text>
<g shape-rendering="crispEdges">
<rect x="1159.5" y="75.5" width="73" height="24" fill="#fff" stroke="#ff0000" stroke-width="1"/>
<rect x="1149" y="87" width="10" height="1" fill="#ff0000"/>
</g>
<text x="1196.5" y="96" font-size="21" fill="#ff0000" text-anchor="middle" font-weight="normal" textLength="69" lengthAdjust="spacingAndGlyphs">1.36636</text>
<g shape-rendering="crispEdges">
<rect x="1349.5" y="46.5" width="61" height="18" fill="#fff" stroke="#ff0000" stroke-width="1"/>
<rect x="1411" y="55" width="18" height="1" fill="#ff0000"/>
</g>
<text x="1380.5" y="62" font-size="17" fill="#ff0000" text-anchor="middle" font-weight="normal" textLength="57" lengthAdjust="spacingAndGlyphs">1.37576</text>
<g shape-rendering="crispEdges">
<rect x="1413.5" y="113.5" width="61" height="18" fill="#fff" stroke="#ff0000" stroke-width="1"/>
<rect x="1478" y="122" width="7" height="1" fill="#ff0000"/>
</g>
<text x="1444.5" y="129" font-size="17" fill="#ff0000" text-anchor="middle" font-weight="normal" textLength="57" lengthAdjust="spacingAndGlyphs">1.35611</text>
<rect x="1474.5" y="120.5" width="3" height="3" fill="#fff" stroke="#ff0000" stroke-width="1" shape-rendering="crispEdges"/>
<rect x="1284" y="84" width="237" height="6" fill="#00ff00"/>
<text x="1534" y="97" font-size="20" fill="#00ff00" textLength="106" lengthAdjust="spacingAndGlyphs" font-family="'Liberation Sans', sans-serif">多空转折点</text>
<g stroke="#ff0000" stroke-width="4" fill="none" stroke-linecap="butt" shape-rendering="crispEdges">
<line x1="1306" y1="154" x2="1429" y2="52"/>
<line x1="1431" y1="49" x2="1503" y2="119"/>
</g>
<polygon points="1432,47 1434,49 1430,55 1428,61 1422,55 1421,51 1426,49" fill="#ff0000"/>
<polygon points="1508,123 1495,119 1503,111" fill="#ff0000"/>
<polygon points="1494,29 1503,29 1498.5,34" fill="#c0c0c0"/>
<g shape-rendering="crispEdges">
<rect x="0" y="28" width="1687" height="1" fill="#000"/>
<rect x="1686" y="28" width="1" height="554" fill="#000"/>
<rect x="0" y="581" width="1687" height="1" fill="#000"/>
<rect x="0" y="583" width="1687" height="1" fill="#000"/>
<rect x="1686" y="583" width="1" height="171" fill="#000"/>
<rect x="0" y="753" width="1687" height="1" fill="#000"/>
<rect x="0" y="755" width="1687" height="1" fill="#000"/>
<rect x="1686" y="755" width="1" height="175" fill="#000"/>
<rect x="0" y="929" width="1687" height="1" fill="#000"/>
</g>
<g shape-rendering="crispEdges">
<rect x="1687" y="50" width="2" height="1" fill="#000"/>
<rect x="1687" y="83" width="2" height="1" fill="#000"/>
<rect x="1687" y="116" width="2" height="1" fill="#000"/>
<rect x="1687" y="149" width="2" height="1" fill="#000"/>
<rect x="1687" y="182" width="2" height="1" fill="#000"/>
<rect x="1687" y="215" width="2" height="1" fill="#000"/>
<rect x="1687" y="248" width="2" height="1" fill="#000"/>
<rect x="1687" y="281" width="2" height="1" fill="#000"/>
<rect x="1687" y="314" width="2" height="1" fill="#000"/>
<rect x="1687" y="347" width="2" height="1" fill="#000"/>
<rect x="1687" y="380" width="2" height="1" fill="#000"/>
<rect x="1687" y="413" width="2" height="1" fill="#000"/>
<rect x="1687" y="446" width="2" height="1" fill="#000"/>
<rect x="1687" y="479" width="2" height="1" fill="#000"/>
<rect x="1687" y="512" width="2" height="1" fill="#000"/>
<rect x="1687" y="545" width="2" height="1" fill="#000"/>
<rect x="1687" y="578" width="2" height="1" fill="#000"/>
</g>
<text x="1692" y="54" font-size="10" fill="#000" text-anchor="start" font-weight="normal" textLength="33" lengthAdjust="spacingAndGlyphs" stroke="#000" stroke-width="0.25">1.37715</text>
<text x="1692" y="120" font-size="10" fill="#000" text-anchor="start" font-weight="normal" textLength="33" lengthAdjust="spacingAndGlyphs" stroke="#000" stroke-width="0.25">1.35780</text>
<text x="1692" y="153" font-size="10" fill="#000" text-anchor="start" font-weight="normal" textLength="33" lengthAdjust="spacingAndGlyphs" stroke="#000" stroke-width="0.25">1.34815</text>
<text x="1692" y="186" font-size="10" fill="#000" text-anchor="start" font-weight="normal" textLength="33" lengthAdjust="spacingAndGlyphs" stroke="#000" stroke-width="0.25">1.33865</text>
<text x="1692" y="219" font-size="10" fill="#000" text-anchor="start" font-weight="normal" textLength="33" lengthAdjust="spacingAndGlyphs" stroke="#000" stroke-width="0.25">1.32890</text>
<text x="1692" y="252" font-size="10" fill="#000" text-anchor="start" font-weight="normal" textLength="33" lengthAdjust="spacingAndGlyphs" stroke="#000" stroke-width="0.25">1.31940</text>
<text x="1692" y="285" font-size="10" fill="#000" text-anchor="start" font-weight="normal" textLength="33" lengthAdjust="spacingAndGlyphs" stroke="#000" stroke-width="0.25">1.30965</text>
<text x="1692" y="318" font-size="10" fill="#000" text-anchor="start" font-weight="normal" textLength="33" lengthAdjust="spacingAndGlyphs" stroke="#000" stroke-width="0.25">1.29990</text>
<text x="1692" y="351" font-size="10" fill="#000" text-anchor="start" font-weight="normal" textLength="33" lengthAdjust="spacingAndGlyphs" stroke="#000" stroke-width="0.25">1.29040</text>
<text x="1692" y="384" font-size="10" fill="#000" text-anchor="start" font-weight="normal" textLength="33" lengthAdjust="spacingAndGlyphs" stroke="#000" stroke-width="0.25">1.28065</text>
<text x="1692" y="417" font-size="10" fill="#000" text-anchor="start" font-weight="normal" textLength="33" lengthAdjust="spacingAndGlyphs" stroke="#000" stroke-width="0.25">1.27090</text>
<text x="1692" y="450" font-size="10" fill="#000" text-anchor="start" font-weight="normal" textLength="33" lengthAdjust="spacingAndGlyphs" stroke="#000" stroke-width="0.25">1.26140</text>
<text x="1692" y="483" font-size="10" fill="#000" text-anchor="start" font-weight="normal" textLength="33" lengthAdjust="spacingAndGlyphs" stroke="#000" stroke-width="0.25">1.25165</text>
<text x="1692" y="516" font-size="10" fill="#000" text-anchor="start" font-weight="normal" textLength="33" lengthAdjust="spacingAndGlyphs" stroke="#000" stroke-width="0.25">1.24190</text>
<text x="1692" y="549" font-size="10" fill="#000" text-anchor="start" font-weight="normal" textLength="33" lengthAdjust="spacingAndGlyphs" stroke="#000" stroke-width="0.25">1.23240</text>
<text x="1692" y="582" font-size="10" fill="#000" text-anchor="start" font-weight="normal" textLength="33" lengthAdjust="spacingAndGlyphs" stroke="#000" stroke-width="0.25">1.22265</text>
<rect x="1688" y="49" width="42" height="11" fill="#ff4500"/>
<text x="1692" y="58" font-size="10" fill="#fff" text-anchor="start" font-weight="normal" textLength="32" lengthAdjust="spacingAndGlyphs" stroke="#fff" stroke-width="0.25">1.37576</text>
<rect x="1688" y="63" width="42" height="11" fill="#ff0000"/>
<text x="1692" y="72" font-size="10" fill="#fff" text-anchor="start" font-weight="normal" textLength="32" lengthAdjust="spacingAndGlyphs" stroke="#fff" stroke-width="0.25">1.37165</text>
<rect x="1688" y="80" width="42" height="1" fill="#000"/>
<rect x="1688" y="81" width="42" height="11" fill="#32cd32"/>
<text x="1692" y="90" font-size="10" fill="#fff" text-anchor="start" font-weight="normal" textLength="32" lengthAdjust="spacingAndGlyphs" stroke="#fff" stroke-width="0.25">1.36636</text>
<rect x="1688" y="99" width="42" height="11" fill="#0000ff"/>
<text x="1692" y="108" font-size="10" fill="#fff" text-anchor="start" font-weight="normal" textLength="32" lengthAdjust="spacingAndGlyphs" stroke="#fff" stroke-width="0.25">1.36108</text>
<rect x="1688" y="116" width="42" height="11" fill="#0000ff"/>
<text x="1692" y="125" font-size="10" fill="#fff" text-anchor="start" font-weight="normal" textLength="32" lengthAdjust="spacingAndGlyphs" stroke="#fff" stroke-width="0.25">1.35611</text>
<polygon points="0,40 3,35 6,40" fill="#000"/>
<text x="11" y="40" font-size="10" fill="#000" text-anchor="start" font-weight="normal" textLength="66.5" lengthAdjust="spacingAndGlyphs" stroke="#000" stroke-width="0.25">GBPUSD-,Daily</text>
<text x="84.5" y="40" font-size="10" fill="#000" text-anchor="start" font-weight="normal" textLength="140" lengthAdjust="spacingAndGlyphs" stroke="#000" stroke-width="0.25">1.36486 1.36969 1.35652 1.36701</text>
<g shape-rendering="crispEdges">
<rect x="4" y="687" width="1" height="14" fill="#c0c0c0"/>
<rect x="12" y="687" width="1" height="11" fill="#c0c0c0"/>
<rect x="20" y="687" width="1" height="8" fill="#c0c0c0"/>
<rect x="28" y="687" width="1" height="5" fill="#c0c0c0"/>
<rect x="36" y="687" width="1" height="2" fill="#c0c0c0"/>
<rect x="44" y="685" width="1" height="3" fill="#c0c0c0"/>
<rect x="52" y="678" width="1" height="10" fill="#c0c0c0"/>
<rect x="60" y="672" width="1" height="16" fill="#c0c0c0"/>
<rect x="68" y="668" width="1" height="20" fill="#c0c0c0"/>
<rect x="76" y="664" width="1" height="24" fill="#c0c0c0"/>
<rect x="84" y="665" width="1" height="23" fill="#c0c0c0"/>
<rect x="92" y="665" width="1" height="23" fill="#c0c0c0"/>
<rect x="100" y="665" width="1" height="23" fill="#c0c0c0"/>
<rect x="108" y="666" width="1" height="22" fill="#c0c0c0"/>
<rect x="116" y="667" width="1" height="21" fill="#c0c0c0"/>
<rect x="124" y="668" width="1" height="20" fill="#c0c0c0"/>
<rect x="132" y="665" width="1" height="23" fill="#c0c0c0"/>
<rect x="140" y="658" width="1" height="30" fill="#c0c0c0"/>
<rect x="148" y="654" width="1" height="34" fill="#c0c0c0"/>
<rect x="156" y="651" width="1" height="37" fill="#c0c0c0"/>
<rect x="164" y="646" width="1" height="42" fill="#c0c0c0"/>
<rect x="172" y="643" width="1" height="45" fill="#c0c0c0"/>
<rect x="180" y="636" width="1" height="52" fill="#c0c0c0"/>
<rect x="188" y="629" width="1" height="59" fill="#c0c0c0"/>
<rect x="196" y="622" width="1" height="66" fill="#c0c0c0"/>
<rect x="204" y="610" width="1" height="78" fill="#c0c0c0"/>
<rect x="212" y="602" width="1" height="86" fill="#c0c0c0"/>
<rect x="220" y="597" width="1" height="91" fill="#c0c0c0"/>
<rect x="228" y="596" width="1" height="92" fill="#c0c0c0"/>
<rect x="236" y="595" width="1" height="93" fill="#c0c0c0"/>
<rect x="244" y="594" width="1" height="94" fill="#c0c0c0"/>
<rect x="252" y="593" width="1" height="95" fill="#c0c0c0"/>
<rect x="260" y="599" width="1" height="89" fill="#c0c0c0"/>
<rect x="268" y="603" width="1" height="85" fill="#c0c0c0"/>
<rect x="276" y="606" width="1" height="82" fill="#c0c0c0"/>
<rect x="284" y="611" width="1" height="77" fill="#c0c0c0"/>
<rect x="292" y="616" width="1" height="72" fill="#c0c0c0"/>
<rect x="300" y="620" width="1" height="68" fill="#c0c0c0"/>
<rect x="308" y="622" width="1" height="66" fill="#c0c0c0"/>
<rect x="316" y="624" width="1" height="64" fill="#c0c0c0"/>
<rect x="324" y="626" width="1" height="62" fill="#c0c0c0"/>
<rect x="332" y="622" width="1" height="66" fill="#c0c0c0"/>
<rect x="340" y="626" width="1" height="62" fill="#c0c0c0"/>
<rect x="348" y="624" width="1" height="64" fill="#c0c0c0"/>
<rect x="356" y="630" width="1" height="58" fill="#c0c0c0"/>
<rect x="364" y="635" width="1" height="53" fill="#c0c0c0"/>
<rect x="372" y="641" width="1" height="47" fill="#c0c0c0"/>
<rect x="380" y="642" width="1" height="46" fill="#c0c0c0"/>
<rect x="388" y="640" width="1" height="48" fill="#c0c0c0"/>
<rect x="396" y="640" width="1" height="48" fill="#c0c0c0"/>
<rect x="404" y="635" width="1" height="53" fill="#c0c0c0"/>
<rect x="412" y="628" width="1" height="60" fill="#c0c0c0"/>
<rect x="420" y="625" width="1" height="63" fill="#c0c0c0"/>
<rect x="428" y="620" width="1" height="68" fill="#c0c0c0"/>
<rect x="436" y="621" width="1" height="67" fill="#c0c0c0"/>
<rect x="444" y="626" width="1" height="62" fill="#c0c0c0"/>
<rect x="452" y="629" width="1" height="59" fill="#c0c0c0"/>
<rect x="460" y="635" width="1" height="53" fill="#c0c0c0"/>
<rect x="468" y="644" width="1" height="44" fill="#c0c0c0"/>
<rect x="476" y="661" width="1" height="27" fill="#c0c0c0"/>
<rect x="484" y="673" width="1" height="15" fill="#c0c0c0"/>
<rect x="492" y="687" width="1" height="5" fill="#c0c0c0"/>
<rect x="500" y="687" width="1" height="21" fill="#c0c0c0"/>
<rect x="508" y="687" width="1" height="33" fill="#c0c0c0"/>
<rect x="516" y="687" width="1" height="38" fill="#c0c0c0"/>
<rect x="524" y="687" width="1" height="42" fill="#c0c0c0"/>
<rect x="532" y="687" width="1" height="40" fill="#c0c0c0"/>
<rect x="540" y="687" width="1" height="37" fill="#c0c0c0"/>
<rect x="548" y="687" width="1" height="37" fill="#c0c0c0"/>
<rect x="556" y="687" width="1" height="35" fill="#c0c0c0"/>
<rect x="564" y="687" width="1" height="41" fill="#c0c0c0"/>
<rect x="572" y="687" width="1" height="48" fill="#c0c0c0"/>
<rect x="580" y="687" width="1" height="54" fill="#c0c0c0"/>
<rect x="588" y="687" width="1" height="56" fill="#c0c0c0"/>
<rect x="596" y="687" width="1" height="59" fill="#c0c0c0"/>
<rect x="604" y="687" width="1" height="57" fill="#c0c0c0"/>
<rect x="612" y="687" width="1" height="52" fill="#c0c0c0"/>
<rect x="620" y="687" width="1" height="47" fill="#c0c0c0"/>
<rect x="628" y="687" width="1" height="40" fill="#c0c0c0"/>
<rect x="636" y="687" width="1" height="35" fill="#c0c0c0"/>
<rect x="644" y="687" width="1" height="29" fill="#c0c0c0"/>
<rect x="652" y="687" width="1" height="24" fill="#c0c0c0"/>
<rect x="660" y="687" width="1" height="16" fill="#c0c0c0"/>
<rect x="668" y="687" width="1" height="16" fill="#c0c0c0"/>
<rect x="676" y="687" width="1" height="14" fill="#c0c0c0"/>
<rect x="684" y="687" width="1" height="11" fill="#c0c0c0"/>
<rect x="692" y="687" width="1" height="3" fill="#c0c0c0"/>
<rect x="700" y="685" width="1" height="3" fill="#c0c0c0"/>
<rect x="708" y="679" width="1" height="9" fill="#c0c0c0"/>
<rect x="716" y="681" width="1" height="7" fill="#c0c0c0"/>
<rect x="724" y="679" width="1" height="9" fill="#c0c0c0"/>
<rect x="732" y="682" width="1" height="6" fill="#c0c0c0"/>
<rect x="740" y="685" width="1" height="3" fill="#c0c0c0"/>
<rect x="764" y="685" width="1" height="3" fill="#c0c0c0"/>
<rect x="772" y="677" width="1" height="11" fill="#c0c0c0"/>
<rect x="780" y="673" width="1" height="15" fill="#c0c0c0"/>
<rect x="788" y="672" width="1" height="16" fill="#c0c0c0"/>
<rect x="796" y="670" width="1" height="18" fill="#c0c0c0"/>
<rect x="804" y="671" width="1" height="17" fill="#c0c0c0"/>
<rect x="812" y="671" width="1" height="17" fill="#c0c0c0"/>
<rect x="820" y="673" width="1" height="15" fill="#c0c0c0"/>
<rect x="828" y="678" width="1" height="10" fill="#c0c0c0"/>
<rect x="836" y="681" width="1" height="7" fill="#c0c0c0"/>
<rect x="844" y="685" width="1" height="3" fill="#c0c0c0"/>
<rect x="860" y="681" width="1" height="7" fill="#c0c0c0"/>
<rect x="868" y="682" width="1" height="6" fill="#c0c0c0"/>
<rect x="876" y="676" width="1" height="12" fill="#c0c0c0"/>
<rect x="884" y="669" width="1" height="19" fill="#c0c0c0"/>
<rect x="892" y="663" width="1" height="25" fill="#c0c0c0"/>
<rect x="900" y="660" width="1" height="28" fill="#c0c0c0"/>
<rect x="908" y="653" width="1" height="35" fill="#c0c0c0"/>
<rect x="916" y="649" width="1" height="39" fill="#c0c0c0"/>
<rect x="924" y="652" width="1" height="36" fill="#c0c0c0"/>
<rect x="932" y="652" width="1" height="36" fill="#c0c0c0"/>
<rect x="940" y="650" width="1" height="38" fill="#c0c0c0"/>
<rect x="948" y="649" width="1" height="39" fill="#c0c0c0"/>
<rect x="956" y="647" width="1" height="41" fill="#c0c0c0"/>
<rect x="964" y="646" width="1" height="42" fill="#c0c0c0"/>
<rect x="972" y="646" width="1" height="42" fill="#c0c0c0"/>
<rect x="980" y="645" width="1" height="43" fill="#c0c0c0"/>
<rect x="988" y="643" width="1" height="45" fill="#c0c0c0"/>
<rect x="996" y="641" width="1" height="47" fill="#c0c0c0"/>
<rect x="1004" y="639" width="1" height="49" fill="#c0c0c0"/>
<rect x="1012" y="636" width="1" height="52" fill="#c0c0c0"/>
<rect x="1020" y="636" width="1" height="52" fill="#c0c0c0"/>
<rect x="1028" y="640" width="1" height="48" fill="#c0c0c0"/>
<rect x="1036" y="641" width="1" height="47" fill="#c0c0c0"/>
<rect x="1044" y="642" width="1" height="46" fill="#c0c0c0"/>
<rect x="1052" y="640" width="1" height="48" fill="#c0c0c0"/>
<rect x="1060" y="641" width="1" height="47" fill="#c0c0c0"/>
<rect x="1068" y="639" width="1" height="49" fill="#c0c0c0"/>
<rect x="1076" y="638" width="1" height="50" fill="#c0c0c0"/>
<rect x="1084" y="638" width="1" height="50" fill="#c0c0c0"/>
<rect x="1092" y="643" width="1" height="45" fill="#c0c0c0"/>
<rect x="1100" y="646" width="1" height="42" fill="#c0c0c0"/>
<rect x="1108" y="650" width="1" height="38" fill="#c0c0c0"/>
<rect x="1116" y="656" width="1" height="32" fill="#c0c0c0"/>
<rect x="1124" y="664" width="1" height="24" fill="#c0c0c0"/>
<rect x="1132" y="667" width="1" height="21" fill="#c0c0c0"/>
<rect x="1140" y="669" width="1" height="19" fill="#c0c0c0"/>
<rect x="1148" y="665" width="1" height="23" fill="#c0c0c0"/>
<rect x="1156" y="659" width="1" height="29" fill="#c0c0c0"/>
<rect x="1164" y="652" width="1" height="36" fill="#c0c0c0"/>
<rect x="1172" y="649" width="1" height="39" fill="#c0c0c0"/>
<rect x="1180" y="653" width="1" height="35" fill="#c0c0c0"/>
<rect x="1188" y="654" width="1" height="34" fill="#c0c0c0"/>
<rect x="1196" y="657" width="1" height="31" fill="#c0c0c0"/>
<rect x="1204" y="655" width="1" height="33" fill="#c0c0c0"/>
<rect x="1212" y="652" width="1" height="36" fill="#c0c0c0"/>
<rect x="1220" y="649" width="1" height="39" fill="#c0c0c0"/>
<rect x="1228" y="652" width="1" height="36" fill="#c0c0c0"/>
<rect x="1236" y="653" width="1" height="35" fill="#c0c0c0"/>
<rect x="1244" y="648" width="1" height="40" fill="#c0c0c0"/>
<rect x="1252" y="643" width="1" height="45" fill="#c0c0c0"/>
<rect x="1260" y="638" width="1" height="50" fill="#c0c0c0"/>
<rect x="1268" y="641" width="1" height="47" fill="#c0c0c0"/>
<rect x="1276" y="640" width="1" height="48" fill="#c0c0c0"/>
<rect x="1284" y="641" width="1" height="47" fill="#c0c0c0"/>
<rect x="1292" y="643" width="1" height="45" fill="#c0c0c0"/>
<rect x="1300" y="648" width="1" height="40" fill="#c0c0c0"/>
<rect x="1308" y="653" width="1" height="35" fill="#c0c0c0"/>
<rect x="1316" y="658" width="1" height="30" fill="#c0c0c0"/>
<rect x="1324" y="655" width="1" height="33" fill="#c0c0c0"/>
<rect x="1332" y="653" width="1" height="35" fill="#c0c0c0"/>
<rect x="1340" y="651" width="1" height="37" fill="#c0c0c0"/>
<rect x="1348" y="655" width="1" height="33" fill="#c0c0c0"/>
<rect x="1356" y="659" width="1" height="29" fill="#c0c0c0"/>
<rect x="1364" y="661" width="1" height="27" fill="#c0c0c0"/>
<rect x="1372" y="661" width="1" height="27" fill="#c0c0c0"/>
<rect x="1380" y="659" width="1" height="29" fill="#c0c0c0"/>
<rect x="1388" y="656" width="1" height="32" fill="#c0c0c0"/>
<rect x="1396" y="655" width="1" height="33" fill="#c0c0c0"/>
<rect x="1404" y="656" width="1" height="32" fill="#c0c0c0"/>
<rect x="1412" y="656" width="1" height="32" fill="#c0c0c0"/>
<rect x="1420" y="654" width="1" height="34" fill="#c0c0c0"/>
<rect x="1428" y="656" width="1" height="32" fill="#c0c0c0"/>
<rect x="1436" y="655" width="1" height="33" fill="#c0c0c0"/>
<rect x="1444" y="656" width="1" height="32" fill="#c0c0c0"/>
<rect x="1452" y="658" width="1" height="30" fill="#c0c0c0"/>
<rect x="1460" y="660" width="1" height="28" fill="#c0c0c0"/>
<rect x="1468" y="663" width="1" height="25" fill="#c0c0c0"/>
<rect x="1476" y="666" width="1" height="22" fill="#c0c0c0"/>
<rect x="1484" y="668" width="1" height="20" fill="#c0c0c0"/>
</g>
<polyline points="2.3,691.5 11.5,694.3 23.1,695.6 38.1,697.3 53.1,692.6 61.2,689.6 69.2,684.6 78.5,679.9 92.3,674.2 101.6,670.7 115.4,667.9 129.3,665.6 143.1,664.2 157.0,661.0 170.8,657.3 184.7,651.1 196.2,644.9 207.7,634.9 219.3,625.7 230.8,617.6 242.4,609.5 253.9,602.6 265.4,598.7 277.0,597.5 286.2,598.7 297.7,602.6 309.3,605.6 323.1,611.9 332.4,616.0 346.2,619.5 360.1,624.5 373.9,628.0 387.8,631.0 396.0,631.9 405.2,634.2 421.4,634.2 435.2,631.0 453.7,628.5 472.2,629.2 483.7,635.6 495.2,647.6 506.8,661.5 518.3,679.9 529.9,693.8 541.4,707.6 557.6,719.2 576.0,728.0 594.5,733.0 613.0,735.8 626.8,737.2 640.7,734.9 654.5,729.6 673.0,719.2 691.4,708.8 707.6,696.1 719.1,691.5 733.0,688.0 742.2,684.6 756.1,682.7 774.5,681.1 792.0,678.1 805.8,677.2 819.7,674.9 828.9,673.5 840.5,673.7 849.7,676.0 865.9,678.1 884.3,678.1 898.2,676.0 907.4,672.6 921.3,665.6 935.1,659.2 949.0,654.6 962.8,650.4 976.7,648.8 990.5,647.2 1002.0,644.2 1022.8,641.2 1041.3,639.5 1064.4,639.1 1075.9,638.4 1092.1,638.9 1115.1,641.9 1126.7,646.5 1138.2,649.5 1152.1,655.0 1161.3,658.0 1188.0,658.0 1201.8,656.9 1211.1,655.0 1218.0,652.2 1245.7,652.2 1257.2,649.9 1266.5,647.6 1280.3,644.2 1291.9,643.5 1308.0,643.5 1321.9,644.9 1331.1,647.2 1345.0,649.5 1354.2,651.8 1368.0,655.0 1381.9,656.4 1418.8,656.4 1437.3,655.2 1460.4,655.7 1467.3,656.9 1478.8,657.3 1484.1,659.6" fill="none" stroke="#ff0000" stroke-width="1" stroke-dasharray="3,3" shape-rendering="crispEdges"/>
<text x="1" y="597" font-size="10" fill="#000" text-anchor="start" font-weight="normal" textLength="147" lengthAdjust="spacingAndGlyphs" stroke="#000" stroke-width="0.25">MACD(12,26,9) 0.003188 0.004545</text>
<g shape-rendering="crispEdges">
<rect x="1687" y="585" width="2" height="1" fill="#000"/>
<rect x="1687" y="687" width="2" height="1" fill="#000"/>
<rect x="1687" y="752" width="2" height="1" fill="#000"/>
</g>
<text x="1690" y="594" font-size="10" fill="#000" text-anchor="start" font-weight="normal" textLength="28" lengthAdjust="spacingAndGlyphs" stroke="#000" stroke-width="0.25">0.0165</text>
<text x="1690" y="692" font-size="10" fill="#000" text-anchor="start" font-weight="normal" textLength="17" lengthAdjust="spacingAndGlyphs" stroke="#000" stroke-width="0.25">0.00</text>
<text x="1690" y="750" font-size="10" fill="#000" text-anchor="start" font-weight="normal" textLength="41" lengthAdjust="spacingAndGlyphs" stroke="#000" stroke-width="0.25">-0.010571</text>
<g shape-rendering="crispEdges">
<line x1="3" y1="791.5" x2="1686" y2="791.5" stroke="#c0c0c0" stroke-width="1" stroke-dasharray="3,3"/>
<line x1="3" y1="842.5" x2="1686" y2="842.5" stroke="#c0c0c0" stroke-width="1" stroke-dasharray="3,3"/>
<line x1="3" y1="903.5" x2="1686" y2="903.5" stroke="#c0c0c0" stroke-width="1" stroke-dasharray="3,3"/>
</g>
<polyline points="0.0,845.0 4.0,840.4 12.0,840.4 20.0,839.5 28.0,839.5 36.0,835.8 44.0,831.2 52.0,823.3 60.0,824.2 68.0,821.5 76.0,822.6 84.0,835.3 92.0,833.5 100.0,830.2 108.0,835.1 116.0,834.2 124.0,834.2 132.0,821.9 140.0,813.4 148.0,814.5 156.0,813.2 164.0,807.6 172.0,806.2 180.0,798.4 188.0,794.7 196.0,791.5 204.0,784.3 212.0,787.3 220.0,788.5 228.0,793.1 236.0,793.1 244.0,790.8 252.0,789.6 260.0,811.1 268.0,811.1 276.0,808.5 284.0,814.3 292.0,816.4 300.0,813.4 308.0,810.4 316.0,808.5 324.0,808.1 332.0,793.1 340.0,823.8 348.0,815.0 356.0,833.0 364.0,833.5 372.0,836.2 380.0,826.6 388.0,820.3 396.0,823.1 404.0,811.5 412.0,810.4 420.0,810.4 428.0,807.6 436.0,816.9 444.0,829.3 452.0,826.6 460.0,832.3 468.0,842.7 476.0,863.0 484.0,859.6 492.0,872.3 500.0,873.4 508.0,871.6 516.0,866.9 524.0,862.3 532.0,851.5 540.0,850.3 548.0,854.9 556.0,854.7 564.0,864.6 572.0,870.4 580.0,872.3 588.0,866.9 596.0,868.1 604.0,863.5 612.0,848.5 620.0,849.6 628.0,843.2 636.0,846.6 644.0,840.4 652.0,841.6 660.0,833.5 668.0,847.3 676.0,843.4 684.0,840.9 692.0,829.3 700.0,830.5 708.0,826.6 716.0,843.9 724.0,835.3 732.0,847.3 740.0,844.6 748.0,845.5 756.0,842.7 764.0,841.6 772.0,823.8 780.0,831.2 788.0,835.1 796.0,833.5 804.0,838.1 812.0,836.2 820.0,841.6 828.0,849.2 836.0,845.5 844.0,849.2 852.0,850.1 860.0,826.6 868.0,843.9 876.0,829.3 884.0,827.2 892.0,825.4 900.0,827.2 908.0,819.6 916.0,824.2 924.0,836.2 932.0,831.2 940.0,827.7 948.0,827.7 956.0,824.7 964.0,825.4 972.0,825.4 980.0,822.4 988.0,820.8 996.0,817.8 1004.0,815.5 1012.0,812.7 1020.0,816.9 1028.0,827.2 1036.0,824.7 1044.0,823.1 1052.0,813.9 1060.0,824.2 1068.0,815.5 1076.0,816.9 1084.0,821.9 1092.0,832.3 1100.0,831.2 1108.0,831.2 1116.0,840.4 1124.0,853.1 1132.0,840.4 1140.0,837.6 1148.0,824.2 1156.0,818.5 1164.0,812.7 1172.0,823.1 1180.0,836.9 1188.0,832.3 1196.0,838.1 1204.0,827.7 1212.0,824.2 1220.0,822.4 1228.0,835.8 1236.0,832.3 1244.0,821.9 1252.0,818.5 1260.0,817.3 1268.0,831.2 1276.0,826.6 1284.0,827.2 1292.0,834.2 1300.0,835.8 1308.0,840.4 1316.0,840.4 1324.0,824.2 1332.0,827.2 1340.0,824.2 1348.0,838.1 1356.0,839.2 1364.0,836.9 1372.0,830.0 1380.0,828.4 1388.0,821.5 1396.0,829.3 1404.0,828.4 1412.0,830.2 1420.0,822.4 1428.0,834.2 1436.0,827.2 1444.0,831.2 1452.0,832.3 1460.0,835.3 1468.0,838.6 1476.0,840.4 1484.0,836.2" fill="none" stroke="#1e90ff" stroke-width="1" shape-rendering="crispEdges"/>
<text x="1" y="771" font-size="10" fill="#000" text-anchor="start" font-weight="normal" textLength="67" lengthAdjust="spacingAndGlyphs" stroke="#000" stroke-width="0.25">RSI(14) 53.6545</text>
<g shape-rendering="crispEdges">
<rect x="1687" y="757" width="2" height="1" fill="#000"/>
<rect x="1687" y="928" width="2" height="1" fill="#000"/>
</g>
<text x="1690.5" y="766" font-size="10" fill="#000" text-anchor="start" font-weight="normal" textLength="15" lengthAdjust="spacingAndGlyphs" stroke="#000" stroke-width="0.25">100</text>
<text x="1689" y="795" font-size="10" fill="#000" text-anchor="start" font-weight="normal" textLength="11" lengthAdjust="spacingAndGlyphs" stroke="#000" stroke-width="0.25">80</text>
<text x="1689" y="846" font-size="10" fill="#000" text-anchor="start" font-weight="normal" textLength="11" lengthAdjust="spacingAndGlyphs" stroke="#000" stroke-width="0.25">50</text>
<text x="1689.5" y="907" font-size="10" fill="#000" text-anchor="start" font-weight="normal" textLength="10" lengthAdjust="spacingAndGlyphs" stroke="#000" stroke-width="0.25">15</text>
<text x="1690" y="926" font-size="10" fill="#000" text-anchor="start" font-weight="normal" textLength="5" lengthAdjust="spacingAndGlyphs" stroke="#000" stroke-width="0.25">0</text>
<g shape-rendering="crispEdges">
<rect x="60" y="930" width="1" height="3" fill="#000"/>
<rect x="124" y="930" width="1" height="3" fill="#000"/>
<rect x="188" y="930" width="1" height="3" fill="#000"/>
<rect x="252" y="930" width="1" height="3" fill="#000"/>
<rect x="316" y="930" width="1" height="3" fill="#000"/>
<rect x="380" y="930" width="1" height="3" fill="#000"/>
<rect x="444" y="930" width="1" height="3" fill="#000"/>
<rect x="508" y="930" width="1" height="3" fill="#000"/>
<rect x="572" y="930" width="1" height="3" fill="#000"/>
<rect x="636" y="930" width="1" height="3" fill="#000"/>
<rect x="700" y="930" width="1" height="3" fill="#000"/>
<rect x="764" y="930" width="1" height="3" fill="#000"/>
<rect x="828" y="930" width="1" height="3" fill="#000"/>
<rect x="892" y="930" width="1" height="3" fill="#000"/>
<rect x="956" y="930" width="1" height="3" fill="#000"/>
<rect x="1020" y="930" width="1" height="3" fill="#000"/>
<rect x="1084" y="930" width="1" height="3" fill="#000"/>
<rect x="1148" y="930" width="1" height="3" fill="#000"/>
<rect x="1212" y="930" width="1" height="3" fill="#000"/>
<rect x="1276" y="930" width="1" height="3" fill="#000"/>
<rect x="1340" y="930" width="1" height="3" fill="#000"/>
<rect x="1404" y="930" width="1" height="3" fill="#000"/>
<rect x="1468" y="930" width="1" height="3" fill="#000"/>
</g>
<text x="-5" y="942" font-size="10" fill="#000" text-anchor="start" font-weight="normal" textLength="50.1" lengthAdjust="spacingAndGlyphs" stroke="#000" stroke-width="0.25">30 Jun 2020</text>
<text x="59" y="942" font-size="10" fill="#000" text-anchor="start" font-weight="normal" textLength="42.0" lengthAdjust="spacingAndGlyphs" stroke="#000" stroke-width="0.25">9 Jul 2020</text>
<text x="123" y="942" font-size="10" fill="#000" text-anchor="start" font-weight="normal" textLength="47.1" lengthAdjust="spacingAndGlyphs" stroke="#000" stroke-width="0.25">19 Jul 2020</text>
<text x="187" y="942" font-size="10" fill="#000" text-anchor="start" font-weight="normal" textLength="47.1" lengthAdjust="spacingAndGlyphs" stroke="#000" stroke-width="0.25">28 Jul 2020</text>
<text x="251" y="942" font-size="10" fill="#000" text-anchor="start" font-weight="normal" textLength="46.1" lengthAdjust="spacingAndGlyphs" stroke="#000" stroke-width="0.25">6 Aug 2020</text>
<text x="315" y="942" font-size="10" fill="#000" text-anchor="start" font-weight="normal" textLength="51.1" lengthAdjust="spacingAndGlyphs" stroke="#000" stroke-width="0.25">16 Aug 2020</text>
<text x="379" y="942" font-size="10" fill="#000" text-anchor="start" font-weight="normal" textLength="51.1" lengthAdjust="spacingAndGlyphs" stroke="#000" stroke-width="0.25">25 Aug 2020</text>
<text x="443" y="942" font-size="10" fill="#000" text-anchor="start" font-weight="normal" textLength="46.6" lengthAdjust="spacingAndGlyphs" stroke="#000" stroke-width="0.25">3 Sep 2020</text>
<text x="507" y="942" font-size="10" fill="#000" text-anchor="start" font-weight="normal" textLength="51.6" lengthAdjust="spacingAndGlyphs" stroke="#000" stroke-width="0.25">13 Sep 2020</text>
<text x="571" y="942" font-size="10" fill="#000" text-anchor="start" font-weight="normal" textLength="51.6" lengthAdjust="spacingAndGlyphs" stroke="#000" stroke-width="0.25">22 Sep 2020</text>
<text x="635" y="942" font-size="10" fill="#000" text-anchor="start" font-weight="normal" textLength="44.5" lengthAdjust="spacingAndGlyphs" stroke="#000" stroke-width="0.25">1 Oct 2020</text>
<text x="699" y="942" font-size="10" fill="#000" text-anchor="start" font-weight="normal" textLength="48.9" lengthAdjust="spacingAndGlyphs" stroke="#000" stroke-width="0.25">11 Oct 2020</text>
<text x="763" y="942" font-size="10" fill="#000" text-anchor="start" font-weight="normal" textLength="49.6" lengthAdjust="spacingAndGlyphs" stroke="#000" stroke-width="0.25">20 Oct 2020</text>
<text x="827" y="942" font-size="10" fill="#000" text-anchor="start" font-weight="normal" textLength="49.6" lengthAdjust="spacingAndGlyphs" stroke="#000" stroke-width="0.25">29 Oct 2020</text>
<text x="891" y="942" font-size="10" fill="#000" text-anchor="start" font-weight="normal" textLength="46.6" lengthAdjust="spacingAndGlyphs" stroke="#000" stroke-width="0.25">8 Nov 2020</text>
<text x="955" y="942" font-size="10" fill="#000" text-anchor="start" font-weight="normal" textLength="51.6" lengthAdjust="spacingAndGlyphs" stroke="#000" stroke-width="0.25">17 Nov 2020</text>
<text x="1019" y="942" font-size="10" fill="#000" text-anchor="start" font-weight="normal" textLength="51.6" lengthAdjust="spacingAndGlyphs" stroke="#000" stroke-width="0.25">26 Nov 2020</text>
<text x="1083" y="942" font-size="10" fill="#000" text-anchor="start" font-weight="normal" textLength="46.6" lengthAdjust="spacingAndGlyphs" stroke="#000" stroke-width="0.25">6 Dec 2020</text>
<text x="1147" y="942" font-size="10" fill="#000" text-anchor="start" font-weight="normal" textLength="51.6" lengthAdjust="spacingAndGlyphs" stroke="#000" stroke-width="0.25">15 Dec 2020</text>
<text x="1211" y="942" font-size="10" fill="#000" text-anchor="start" font-weight="normal" textLength="51.6" lengthAdjust="spacingAndGlyphs" stroke="#000" stroke-width="0.25">24 Dec 2020</text>
<text x="1275" y="942" font-size="10" fill="#000" text-anchor="start" font-weight="normal" textLength="45.0" lengthAdjust="spacingAndGlyphs" stroke="#000" stroke-width="0.25">5 Jan 2021</text>
<text x="1339" y="942" font-size="10" fill="#000" text-anchor="start" font-weight="normal" textLength="50.1" lengthAdjust="spacingAndGlyphs" stroke="#000" stroke-width="0.25">14 Jan 2021</text>
<text x="1403" y="942" font-size="10" fill="#000" text-anchor="start" font-weight="normal" textLength="50.1" lengthAdjust="spacingAndGlyphs" stroke="#000" stroke-width="0.25">24 Jan 2021</text>
<text x="1467" y="942" font-size="10" fill="#000" text-anchor="start" font-weight="normal" textLength="46.1" lengthAdjust="spacingAndGlyphs" stroke="#000" stroke-width="0.25">2 Feb 2021</text>
<defs>
<linearGradient id="gt" x1="0" y1="0" x2="0" y2="1"><stop offset="0" stop-color="#5555f5"/><stop offset="1" stop-color="#3333e8"/></linearGradient>
<linearGradient id="gb" x1="0" y1="0" x2="0" y2="1"><stop offset="0" stop-color="#3030e0"/><stop offset="1" stop-color="#0000c4"/></linearGradient>
<linearGradient id="gbtn" x1="0" y1="0" x2="0" y2="1"><stop offset="0" stop-color="#f4f4f4"/><stop offset="1" stop-color="#d0d0d0"/></linearGradient>
</defs>
<rect x="0" y="44" width="220" height="70" fill="#ffffff"/>
<rect x="0" y="48" width="52" height="25" fill="#0000a8"/>
<rect x="0" y="49" width="51" height="24" fill="url(#gt)"/>
<rect x="166" y="48" width="52" height="25" fill="#0000a8"/>
<rect x="167" y="49" width="50" height="24" fill="url(#gt)"/>
<rect x="0" y="72" width="108" height="40" fill="#0000a8"/>
<rect x="0" y="73" width="107" height="38" fill="url(#gb)"/>
<rect x="110" y="72" width="108" height="40" fill="#0000a8"/>
<rect x="111" y="73" width="106" height="38" fill="url(#gb)"/>
<rect x="0" y="72" width="51" height="1" fill="#3838e4"/>
<rect x="167" y="72" width="50" height="1" fill="#3838e4"/>
<rect x="3" y="72" width="44" height="1" fill="#8888ff"/>
<rect x="170" y="72" width="44" height="1" fill="#8888ff"/>
<rect x="53.5" y="48.5" width="110" height="21" fill="#fff" stroke="#a0a0a0"/>
<rect x="54" y="49" width="20" height="20" fill="url(#gbtn)"/>
<rect x="74" y="49" width="1" height="20" fill="#b0b0b0"/>
<rect x="142" y="49" width="1" height="20" fill="#b0b0b0"/>
<rect x="143" y="49" width="20" height="20" fill="url(#gbtn)"/>
<polygon points="61,57 67,57 64,60" fill="#4a5aa8"/>
<polygon points="150,61 156,61 153,58" fill="#4a5aa8"/>
<text x="138" y="63" font-size="11" fill="#000" text-anchor="end" font-weight="normal" textLength="23" lengthAdjust="spacingAndGlyphs">1.00</text>
<text x="11" y="64" font-size="11" fill="#fff" text-anchor="start" font-weight="normal" textLength="26" lengthAdjust="spacingAndGlyphs">SELL</text>
<text x="179" y="64" font-size="11" fill="#fff" text-anchor="start" font-weight="normal" textLength="24" lengthAdjust="spacingAndGlyphs">BUY</text>
<text x="19" y="103" font-size="12" fill="#fff" text-anchor="start" font-weight="bold" textLength="23" lengthAdjust="spacingAndGlyphs">1.36</text>
<text x="47" y="103" font-size="33" fill="#fff" text-anchor="start" font-weight="normal" textLength="34" lengthAdjust="spacingAndGlyphs">70</text>
<text x="87" y="87" font-size="10" fill="#fff" text-anchor="start" font-weight="bold">1</text>
<text x="129" y="103" font-size="12" fill="#fff" text-anchor="start" font-weight="bold" textLength="24" lengthAdjust="spacingAndGlyphs">1.36</text>
<text x="157" y="103" font-size="33" fill="#fff" text-anchor="start" font-weight="normal" textLength="34" lengthAdjust="spacingAndGlyphs">72</text>
<text x="197" y="87" font-size="10" fill="#fff" text-anchor="start" font-weight="bold">6</text>
<g>
<rect x="-4.5" y="5.5" width="14" height="13" rx="1" fill="#fff" stroke="#3a78c8"/>
<rect x="-3" y="8" width="12" height="1" fill="#b8cce8"/>
<rect x="-3" y="10" width="12" height="1" fill="#b8cce8"/>
<rect x="-3" y="12" width="12" height="1" fill="#b8cce8"/>
<path d="M3.5 14v5M1 16.5h5" stroke="#202020" stroke-width="1"/>
<rect x="22.5" y="4.5" width="12" height="13" fill="#f8f8f0" stroke="#b8a888"/>
<path d="M25 7v8M28 6v6" stroke="#808080"/>
<circle cx="30.5" cy="13" r="5" fill="#d8e8f8" fill-opacity="0.85" stroke="#78a8e0" stroke-width="1.2"/>
<line x1="34" y1="16.5" x2="39" y2="21" stroke="#c8a030" stroke-width="2.5"/>
<rect x="47" y="2" width="1" height="20" fill="#a0a0a0"/>
<rect x="48" y="2" width="1" height="20" fill="#ffffff"/>
<path d="M57.5 4.5h8l3 3v10h-11z" fill="#fafafa" stroke="#707070"/>
<rect x="59" y="7" width="4" height="1" fill="#909090"/>
<rect x="59" y="10" width="6" height="1" fill="#909090"/>
<rect x="59" y="13" width="6" height="1" fill="#909090"/>
<path d="M64 13h3.5v-3.5h4v3.5h3.5v4h-3.5v3.5h-4v-3.5h-3.5z" fill="#2cc82c" stroke="#129012" stroke-width="0.8"/>
<text x="76" y="15" font-size="12" fill="#000" text-anchor="start" font-weight="normal" textLength="36" lengthAdjust="spacingAndGlyphs">新订单</text>
<path d="M124.5 13.5 L132 5.5 L141 11.5 L135 20 Z" fill="#e8c030" stroke="#a87818"/>
<path d="M126 15 L135 20 L141 12.5" fill="none" stroke="#fff0b0" stroke-width="1"/>
<rect x="154.5" y="4.5" width="10" height="10" fill="#3a90e0" stroke="#2060b0"/>
<rect x="158" y="7" width="5" height="2" fill="#e0f0ff"/>
<path d="M151 19c0-3 3-4 5-3c1-3 6-3 7 0c3-1 5 1 5 3z" fill="#f0f4f8" stroke="#7890a8"/>
<circle cx="187.5" cy="11.5" r="7" fill="none" stroke="#90b0d0" stroke-width="1"/>
<circle cx="187.5" cy="11.5" r="4.5" fill="none" stroke="#4a78c8" stroke-width="1"/>
<circle cx="187.5" cy="11.5" r="1.8" fill="#2a58c8"/>
<path d="M187.5 12v7" stroke="#30a030" stroke-width="1.5"/>
<path d="M208 17 L216 20 L222 13 L208 12z" fill="#f0d040" stroke="#c0a020" stroke-width="0.8"/>
<ellipse cx="215" cy="9" rx="8" ry="3.5" fill="#50a0e0" stroke="#3070b0" stroke-width="0.8"/>
<ellipse cx="215" cy="7" rx="4" ry="3" fill="#60b0f0"/>
<circle cx="219" cy="15.5" r="4.2" fill="#d82818"/>
<rect x="217" y="14" width="3" height="3" fill="#ffffff"/>
<text x="229" y="15" font-size="12" fill="#000" text-anchor="start" font-weight="normal" textLength="47" lengthAdjust="spacingAndGlyphs">自动交易</text>
<rect x="283" y="2" width="1" height="20" fill="#a0a0a0"/>
<rect x="284" y="2" width="1" height="20" fill="#ffffff"/>
<rect x="287" y="3" width="3" height="1" fill="#a8a8a8"/>
<rect x="287" y="5" width="3" height="1" fill="#a8a8a8"/>
<rect x="287" y="7" width="3" height="1" fill="#a8a8a8"/>
<rect x="287" y="9" width="3" height="1" fill="#a8a8a8"/>
<rect x="287" y="11" width="3" height="1" fill="#a8a8a8"/>
<rect x="287" y="13" width="3" height="1" fill="#a8a8a8"/>
<rect x="287" y="15" width="3" height="1" fill="#a8a8a8"/>
<rect x="287" y="17" width="3" height="1" fill="#a8a8a8"/>
<rect x="287" y="19" width="3" height="1" fill="#a8a8a8"/>
<rect x="287" y="21" width="3" height="1" fill="#a8a8a8"/>
<path d="M301.5 6v13M299 17.5h14" stroke="#404040" stroke-width="1" fill="none" shape-rendering="crispEdges"/>
<polygon points="299.5,8 301.5,5 303.5,8" fill="#404040"/>
<polygon points="311,15.5 314,17.5 311,19.5" fill="#404040"/>
<path d="M307.5 8v7M307 8.5h3M305 14.5h3" stroke="#20a020" stroke-width="1.2" fill="none"/>
<rect x="321" y="0" width="25" height="23" fill="#e9e9e9"/>
<rect x="321" y="0" width="25" height="1" fill="#a8a8a8"/>
<rect x="321" y="0" width="1" height="23" fill="#b8b8b8"/>
<path d="M329.5 6v13M327 17.5h14" stroke="#404040" stroke-width="1" fill="none" shape-rendering="crispEdges"/>
<polygon points="327.5,8 329.5,5 331.5,8" fill="#404040"/>
<polygon points="339,15.5 342,17.5 339,19.5" fill="#404040"/>
<rect x="333" y="4" width="1" height="11" fill="#107010"/>
<rect x="331.5" y="6.5" width="5" height="6" fill="#30d030" stroke="#108010"/>
<path d="M357.5 6v13M355 17.5h14" stroke="#404040" stroke-width="1" fill="none" shape-rendering="crispEdges"/>
<polygon points="355.5,8 357.5,5 359.5,8" fill="#404040"/>
<polygon points="367,15.5 370,17.5 367,19.5" fill="#404040"/>
<path d="M356 14 Q362 6 368 12" stroke="#30a030" stroke-width="1.2" fill="none"/>
<rect x="378" y="2" width="1" height="20" fill="#a0a0a0"/>
<rect x="379" y="2" width="1" height="20" fill="#ffffff"/>
<line x1="395.5" y1="13" x2="401.5" y2="19" stroke="#907010" stroke-width="3"/>
<line x1="395.5" y1="13" x2="401.5" y2="19" stroke="#e8c840" stroke-width="1.6"/>
<circle cx="392.5" cy="10" r="5.5" fill="#d8ecfc" stroke="#3a78d0" stroke-width="1.3"/>
<path d="M389.5 10h6" stroke="#3a78d0" stroke-width="1.6"/>
<path d="M392.5 7v6" stroke="#3a78d0" stroke-width="1.6"/>
<line x1="424" y1="13" x2="430" y2="19" stroke="#907010" stroke-width="3"/>
<line x1="424" y1="13" x2="430" y2="19" stroke="#e8c840" stroke-width="1.6"/>
<circle cx="421" cy="10" r="5.5" fill="#d8ecfc" stroke="#3a78d0" stroke-width="1.3"/>
<path d="M418 10h6" stroke="#3a78d0" stroke-width="1.6"/>
<rect x="443" y="4" width="8" height="8" fill="#30a030"/>
<rect x="451" y="4" width="8" height="8" fill="#2a60c8"/>
<rect x="443" y="12" width="8" height="8" fill="#2a60c8"/>
<rect x="451" y="12" width="8" height="8" fill="#30a030"/>
<rect x="445" y="7" width="5" height="3" fill="#ffffff"/>
<rect x="453" y="7" width="5" height="3" fill="#ffffff"/>
<rect x="445" y="15" width="5" height="3" fill="#ffffff"/>
<rect x="453" y="15" width="5" height="3" fill="#ffffff"/>
<rect x="468" y="2" width="1" height="20" fill="#a0a0a0"/>
<rect x="469" y="2" width="1" height="20" fill="#ffffff"/>
<rect x="473" y="0" width="25" height="23" fill="#e9e9e9"/>
<rect x="473" y="0" width="25" height="1" fill="#a8a8a8"/>
<rect x="473" y="0" width="1" height="23" fill="#b8b8b8"/>
<path d="M481.5 6v13M479 17.5h14" stroke="#404040" stroke-width="1" fill="none" shape-rendering="crispEdges"/>
<polygon points="479.5,8 481.5,5 483.5,8" fill="#404040"/>
<polygon points="491,15.5 494,17.5 491,19.5" fill="#404040"/>
<polygon points="486,9 490,11.5 486,14" fill="none" stroke="#20a020" stroke-width="1.2"/>
<rect x="501" y="0" width="25" height="23" fill="#e9e9e9"/>
<rect x="501" y="0" width="25" height="1" fill="#a8a8a8"/>
<rect x="501" y="0" width="1" height="23" fill="#b8b8b8"/>
<path d="M509.5 6v13M507 17.5h14" stroke="#404040" stroke-width="1" fill="none" shape-rendering="crispEdges"/>
<polygon points="507.5,8 509.5,5 511.5,8" fill="#404040"/>
<polygon points="519,15.5 522,17.5 519,19.5" fill="#404040"/>
<rect x="515" y="7" width="1" height="10" fill="#2060b0"/>
<path d="M517 11.5h4M519 9.5l-2 2 2 2" stroke="#e04020" stroke-width="1.2" fill="none"/>
<rect x="530" y="2" width="1" height="20" fill="#a0a0a0"/>
<rect x="531" y="2" width="1" height="20" fill="#ffffff"/>
<path d="M540.5 4.5h7l3 3v10h-10z" fill="#fafafa" stroke="#707070"/>
<path d="M545 13h3.5v-3.5h4v3.5h3.5v4h-3.5v3.5h-4v-3.5h-3.5z" fill="#2cc82c" stroke="#129012" stroke-width="0.8"/>
<polygon points="561,11 567,11 564,14" fill="#101010"/>
<circle cx="586" cy="11.5" r="7.5" fill="#1a58b8"/>
<circle cx="586" cy="11.5" r="5.5" fill="#f4f8ff"/>
<path d="M586 7.5v4h3" stroke="#303030" fill="none"/>
<polygon points="600,11 606,11 603,14" fill="#101010"/>
<rect x="617.5" y="5.5" width="15" height="13" fill="#f4f8ff" stroke="#2a60b0"/>
<rect x="618" y="6" width="14" height="2" fill="#4a80d0"/>
<path d="M620 11l3-1 3 1 3-1 2 0" fill="none" stroke="#d03020"/>
<path d="M620 16l3-2 3 1 3-2 2 1" fill="none" stroke="#20a020"/>
<polygon points="639,11 645,11 642,14" fill="#101010"/>
<rect x="651" y="2" width="1" height="20" fill="#a0a0a0"/>
<rect x="652" y="2" width="1" height="20" fill="#ffffff"/>
<rect x="655" y="3" width="3" height="1" fill="#a8a8a8"/>
<rect x="655" y="5" width="3" height="1" fill="#a8a8a8"/>
<rect x="655" y="7" width="3" height="1" fill="#a8a8a8"/>
<rect x="655" y="9" width="3" height="1" fill="#a8a8a8"/>
<rect x="655" y="11" width="3" height="1" fill="#a8a8a8"/>
<rect x="655" y="13" width="3" height="1" fill="#a8a8a8"/>
<rect x="655" y="15" width="3" height="1" fill="#a8a8a8"/>
<rect x="655" y="17" width="3" height="1" fill="#a8a8a8"/>
<rect x="655" y="19" width="3" height="1" fill="#a8a8a8"/>
<rect x="655" y="21" width="3" height="1" fill="#a8a8a8"/>
<rect x="661" y="0" width="25" height="23" fill="#e9e9e9"/>
<rect x="661" y="0" width="25" height="1" fill="#a8a8a8"/>
<rect x="661" y="0" width="1" height="23" fill="#b8b8b8"/>
<polygon points="669,4 669,17 672,14.5 675,20 677.5,19 674.5,13.5 678.5,13.5" fill="#3a3a3a"/>
<path d="M701.5 5v14M694 12.5h15" stroke="#404040" stroke-width="1" shape-rendering="crispEdges"/>
<rect x="718" y="2" width="1" height="20" fill="#a0a0a0"/>
<rect x="719" y="2" width="1" height="20" fill="#ffffff"/>
<path d="M735.5 6v12M757 12.5h13M786 18l12-12" stroke="#505050"/>
<path d="M813 17l10-10M815 19l10-10M811 14l10-2M812 10l10-2" stroke="#505050"/>
<text x="823" y="22" font-size="7" fill="#303030" text-anchor="start" font-weight="bold">E</text>
<path d="M840 6h14M840 10h14M840 14h14" stroke="#707070" stroke-dasharray="1,1"/>
<text x="850" y="22" font-size="7" fill="#303030" text-anchor="start" font-weight="bold">F</text>
<text x="870" y="17" font-size="14" fill="#505050" text-anchor="start" font-weight="normal">A</text>
<rect x="896.5" y="5.5" width="13" height="13" fill="none" stroke="#505050" stroke-dasharray="1,1" shape-rendering="crispEdges"/>
<text x="899" y="16" font-size="11" fill="#404040" text-anchor="start" font-weight="bold">T</text>
<path d="M925 9l4-3 4 3M931 13l4 4 4-4" stroke="#404040" stroke-width="2" fill="none"/>
<polygon points="945,11 951,11 948,14" fill="#202020"/>
<rect x="957" y="2" width="1" height="20" fill="#a0a0a0"/>
<rect x="958" y="2" width="1" height="20" fill="#ffffff"/>
<rect x="962" y="3" width="3" height="1" fill="#a8a8a8"/>
<rect x="962" y="5" width="3" height="1" fill="#a8a8a8"/>
<rect x="962" y="7" width="3" height="1" fill="#a8a8a8"/>
<rect x="962" y="9" width="3" height="1" fill="#a8a8a8"/>
<rect x="962" y="11" width="3" height="1" fill="#a8a8a8"/>
<rect x="962" y="13" width="3" height="1" fill="#a8a8a8"/>
<rect x="962" y="15" width="3" height="1" fill="#a8a8a8"/>
<rect x="962" y="17" width="3" height="1" fill="#a8a8a8"/>
<rect x="962" y="19" width="3" height="1" fill="#a8a8a8"/>
<rect x="962" y="21" width="3" height="1" fill="#a8a8a8"/>
<text x="979" y="16" font-size="10" fill="#303030" text-anchor="middle" font-weight="normal">M1</text>
<text x="1007" y="16" font-size="10" fill="#303030" text-anchor="middle" font-weight="normal">M5</text>
<text x="1035" y="16" font-size="10" fill="#303030" text-anchor="middle" font-weight="normal">M15</text>
<text x="1063" y="16" font-size="10" fill="#303030" text-anchor="middle" font-weight="normal">M30</text>
<text x="1091" y="16" font-size="10" fill="#303030" text-anchor="middle" font-weight="normal">H1</text>
<text x="1119" y="16" font-size="10" fill="#303030" text-anchor="middle" font-weight="normal">H4</text>
<rect x="1136" y="1" width="24" height="22" fill="#e8e8e8"/>
<rect x="1136" y="1" width="24" height="1" fill="#c8c8c8"/>
<rect x="1136" y="1" width="1" height="22" fill="#c8c8c8"/>
<text x="1148" y="16" font-size="10" fill="#303030" text-anchor="middle" font-weight="normal">D1</text>
<text x="1176" y="16" font-size="10" fill="#303030" text-anchor="middle" font-weight="normal">W1</text>
<text x="1203" y="16" font-size="10" fill="#303030" text-anchor="middle" font-weight="normal">MN</text>
<rect x="1219" y="2" width="1" height="20" fill="#a0a0a0"/>
<rect x="1220" y="2" width="1" height="20" fill="#ffffff"/>
<circle cx="1689" cy="9.5" r="4" fill="none" stroke="#2a5cd8" stroke-width="1.6"/>
<line x1="1686" y1="12.5" x2="1682" y2="17" stroke="#2a5cd8" stroke-width="2"/>
<ellipse cx="1711" cy="14" rx="6" ry="4" fill="#e8e8ec" stroke="#b0b0b0"/>
<circle cx="1719.5" cy="9.5" r="8" fill="#e03a20"/>
<text x="1719.5" y="14" font-size="12" fill="#fff" text-anchor="middle" font-weight="normal">1</text>
</g>
</svg></body></html>
